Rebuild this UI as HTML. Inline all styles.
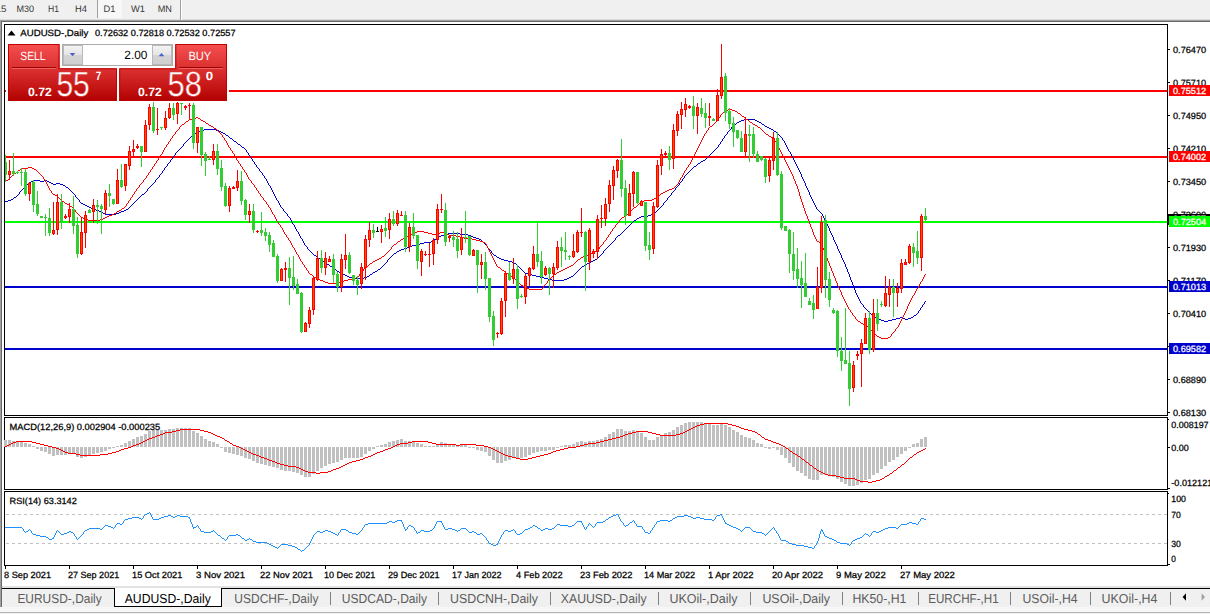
<!DOCTYPE html>
<html><head><meta charset="utf-8"><title>AUDUSD-,Daily</title>
<style>html,body{margin:0;padding:0;background:#fff;overflow:hidden}svg{display:block}text{font-family:"Liberation Sans", sans-serif;white-space:pre}</style></head><body>
<svg width="1210" height="614" viewBox="0 0 1210 614">
<defs><linearGradient id="gTop" gradientUnits="userSpaceOnUse" x1="0" y1="44" x2="0" y2="68.3"><stop offset="0" stop-color="#f75050"/><stop offset="1" stop-color="#d93030"/></linearGradient><linearGradient id="gBot" gradientUnits="userSpaceOnUse" x1="0" y1="68.3" x2="0" y2="101"><stop offset="0" stop-color="#dc3232"/><stop offset="0.6" stop-color="#c41414"/><stop offset="1" stop-color="#b00000"/></linearGradient><linearGradient id="gBtn" x1="0" y1="0" x2="0" y2="1"><stop offset="0" stop-color="#f4f4f4"/><stop offset="0.5" stop-color="#e4e4e4"/><stop offset="0.5" stop-color="#d4d4d4"/><stop offset="1" stop-color="#cfcfcf"/></linearGradient><clipPath id="cpMain"><rect x="5" y="25" width="1162" height="390"/></clipPath><clipPath id="cpAll"><rect x="0" y="0" width="1210" height="614"/></clipPath></defs>
<rect x="0" y="0" width="1210" height="614" fill="#ffffff" />
<rect x="0" y="0" width="1210" height="19" fill="#f0f0f0" />
<rect x="0" y="19" width="1210" height="1" fill="#dcdcdc" />
<rect x="0" y="20" width="1210" height="1" fill="#a0a0a0" />
<rect x="0" y="21" width="1210" height="1" fill="#696969" />
<rect x="0" y="20" width="1" height="567" fill="#a0a0a0" />
<rect x="1" y="21" width="1" height="566" fill="#696969" />
<rect x="98" y="0" width="24" height="18" fill="#f7f7f7" />
<rect x="97" y="0" width="1" height="18" fill="#a0a0a0" />
<rect x="180" y="0" width="1" height="20" fill="#a0a0a0" />
<rect x="181" y="0" width="1" height="20" fill="#ffffff" />
<text transform="translate(-12.6,12.1) skewX(0.05)" font-size="9.4" fill="#383838" textLength="18.9" lengthAdjust="spacingAndGlyphs" >M15</text>
<text transform="translate(16.4,12.1) skewX(0.05)" font-size="9.4" fill="#383838" textLength="17.6" lengthAdjust="spacingAndGlyphs" >M30</text>
<text transform="translate(48,12.1) skewX(0.05)" font-size="9.4" fill="#383838" textLength="11" lengthAdjust="spacingAndGlyphs" >H1</text>
<text transform="translate(75,12.1) skewX(0.05)" font-size="9.4" fill="#383838" textLength="12" lengthAdjust="spacingAndGlyphs" >H4</text>
<text transform="translate(103.5,12.1) skewX(0.05)" font-size="9.4" fill="#383838" textLength="12" lengthAdjust="spacingAndGlyphs" >D1</text>
<text transform="translate(131,12.1) skewX(0.05)" font-size="9.4" fill="#383838" textLength="14" lengthAdjust="spacingAndGlyphs" >W1</text>
<text transform="translate(157.7,12.1) skewX(0.05)" font-size="9.4" fill="#383838" textLength="14.3" lengthAdjust="spacingAndGlyphs" >MN</text>
<g shape-rendering="crispEdges">
<rect x="4" y="24" width="1164" height="1" fill="#000" />
<rect x="4" y="24" width="1" height="392" fill="#000" />
<rect x="4" y="415" width="1164" height="1" fill="#000" />
<rect x="1167" y="24" width="1" height="542" fill="#000" />
<rect x="4" y="417" width="1164" height="1" fill="#000" />
<rect x="4" y="417" width="1" height="73" fill="#000" />
<rect x="4" y="489" width="1164" height="1" fill="#000" />
<rect x="4" y="491" width="1164" height="1" fill="#000" />
<rect x="4" y="491" width="1" height="75" fill="#000" />
<rect x="4" y="565" width="1164" height="1" fill="#000" />
<rect x="1167" y="416" width="1" height="1" fill="#fff" />
<rect x="1167" y="490" width="1" height="1" fill="#fff" />
</g>
<g shape-rendering="crispEdges">
<rect x="1168" y="49" width="2" height="1" fill="#000" />
<rect x="1168" y="82" width="2" height="1" fill="#000" />
<rect x="1168" y="115" width="2" height="1" fill="#000" />
<rect x="1168" y="148" width="2" height="1" fill="#000" />
<rect x="1168" y="181" width="2" height="1" fill="#000" />
<rect x="1168" y="214" width="2" height="1" fill="#000" />
<rect x="1168" y="247" width="2" height="1" fill="#000" />
<rect x="1168" y="280" width="2" height="1" fill="#000" />
<rect x="1168" y="313" width="2" height="1" fill="#000" />
<rect x="1168" y="346" width="2" height="1" fill="#000" />
<rect x="1168" y="379" width="2" height="1" fill="#000" />
<rect x="1168" y="412" width="2" height="1" fill="#000" />
</g>
<text transform="translate(1173,52.9) skewX(0.05)" font-size="9" fill="#000" textLength="33.2" lengthAdjust="spacingAndGlyphs" stroke="#000" stroke-width="0.25">0.76470</text>
<text transform="translate(1173,85.9) skewX(0.05)" font-size="9" fill="#000" textLength="33.2" lengthAdjust="spacingAndGlyphs" stroke="#000" stroke-width="0.25">0.75710</text>
<text transform="translate(1173,118.9) skewX(0.05)" font-size="9" fill="#000" textLength="33.2" lengthAdjust="spacingAndGlyphs" stroke="#000" stroke-width="0.25">0.74950</text>
<text transform="translate(1173,151.9) skewX(0.05)" font-size="9" fill="#000" textLength="33.2" lengthAdjust="spacingAndGlyphs" stroke="#000" stroke-width="0.25">0.74210</text>
<text transform="translate(1173,184.9) skewX(0.05)" font-size="9" fill="#000" textLength="33.2" lengthAdjust="spacingAndGlyphs" stroke="#000" stroke-width="0.25">0.73450</text>
<text transform="translate(1173,217.9) skewX(0.05)" font-size="9" fill="#000" textLength="33.2" lengthAdjust="spacingAndGlyphs" stroke="#000" stroke-width="0.25">0.72690</text>
<text transform="translate(1173,250.9) skewX(0.05)" font-size="9" fill="#000" textLength="33.2" lengthAdjust="spacingAndGlyphs" stroke="#000" stroke-width="0.25">0.71930</text>
<text transform="translate(1173,283.9) skewX(0.05)" font-size="9" fill="#000" textLength="33.2" lengthAdjust="spacingAndGlyphs" stroke="#000" stroke-width="0.25">0.71170</text>
<text transform="translate(1173,316.9) skewX(0.05)" font-size="9" fill="#000" textLength="33.2" lengthAdjust="spacingAndGlyphs" stroke="#000" stroke-width="0.25">0.70410</text>
<text transform="translate(1173,349.9) skewX(0.05)" font-size="9" fill="#000" textLength="33.2" lengthAdjust="spacingAndGlyphs" stroke="#000" stroke-width="0.25">0.69650</text>
<text transform="translate(1173,382.9) skewX(0.05)" font-size="9" fill="#000" textLength="33.2" lengthAdjust="spacingAndGlyphs" stroke="#000" stroke-width="0.25">0.68890</text>
<text transform="translate(1173,415.9) skewX(0.05)" font-size="9" fill="#000" textLength="33.2" lengthAdjust="spacingAndGlyphs" stroke="#000" stroke-width="0.25">0.68130</text>
<g shape-rendering="crispEdges">
<rect x="5" y="90" width="1162" height="2" fill="#ff0000" />
<rect x="5" y="156" width="1162" height="2" fill="#ff0000" />
<rect x="5" y="221" width="1162" height="2" fill="#00ff00" />
<rect x="5" y="286" width="1162" height="2" fill="#0000cd" />
<rect x="5" y="348" width="1162" height="2" fill="#0000cd" />
</g>
<g clip-path="url(#cpMain)">
<path d="M19 192h1v2h-1zM75 195h1v2h-1zM79 200h1v2h-1zM147 189h1v2h-1zM155 180h1v2h-1zM159 175h1v2h-1zM162 171h1v2h-1zM164 168h1v2h-1zM167 164h1v2h-1zM170 160h1v2h-1zM172 157h1v2h-1zM175 153h1v2h-1zM183 144h1v2h-1zM246 150h1v2h-1zM248 153h1v2h-1zM250 156h1v2h-1zM252 159h1v2h-1zM254 162h1v2h-1zM256 165h1v2h-1zM259 169h1v2h-1zM262 173h1v2h-1zM264 176h1v2h-1zM266 179h1v2h-1zM267 181h1v2h-1zM268 183h1v2h-1zM270 186h1v2h-1zM271 188h1v2h-1zM272 190h1v2h-1zM273 192h1v2h-1zM274 194h1v2h-1zM275 196h1v2h-1zM276 198h1v2h-1zM278 201h1v2h-1zM279 203h1v2h-1zM280 205h1v2h-1zM283 209h1v2h-1zM287 214h1v2h-1zM290 218h1v2h-1zM291 220h1v2h-1zM292 222h1v2h-1zM294 225h1v2h-1zM295 227h1v2h-1zM296 229h1v2h-1zM298 232h1v2h-1zM299 234h1v2h-1zM300 236h1v2h-1zM302 239h1v2h-1zM303 241h1v2h-1zM304 243h1v2h-1zM307 247h1v2h-1zM387 260h1v2h-1zM487 246h1v2h-1zM491 251h1v2h-1zM603 251h1v2h-1zM615 238h1v2h-1zM663 203h1v2h-1zM667 198h1v2h-1zM671 193h1v2h-1zM675 188h1v2h-1zM679 183h1v2h-1zM682 179h1v2h-1zM684 176h1v2h-1zM718 145h1v2h-1zM720 142h1v2h-1zM722 139h1v2h-1zM724 136h1v2h-1zM727 132h1v2h-1zM731 127h1v2h-1zM782 138h1v2h-1zM784 141h1v2h-1zM785 143h1v2h-1zM786 145h1v2h-1zM787 147h1v2h-1zM788 149h1v2h-1zM790 152h1v2h-1zM791 154h1v2h-1zM792 156h1v2h-1zM793 158h1v2h-1zM794 160h1v2h-1zM795 162h1v2h-1zM796 164h1v2h-1zM797 166h1v2h-1zM798 168h1v2h-1zM799 170h1v2h-1zM800 172h1v2h-1zM801 174h1v3h-1zM802 177h1v2h-1zM803 179h1v2h-1zM804 181h1v2h-1zM805 183h1v3h-1zM806 186h1v2h-1zM807 188h1v2h-1zM808 190h1v2h-1zM809 192h1v3h-1zM810 195h1v2h-1zM811 197h1v2h-1zM812 199h1v2h-1zM813 201h1v2h-1zM814 203h1v2h-1zM815 205h1v2h-1zM816 207h1v2h-1zM822 214h1v2h-1zM823 216h1v2h-1zM824 218h1v2h-1zM825 220h1v2h-1zM826 222h1v2h-1zM827 224h1v2h-1zM828 226h1v2h-1zM829 228h1v3h-1zM830 231h1v2h-1zM831 233h1v2h-1zM832 235h1v2h-1zM833 237h1v3h-1zM834 240h1v2h-1zM835 242h1v2h-1zM836 244h1v2h-1zM837 246h1v3h-1zM838 249h1v2h-1zM839 251h1v2h-1zM840 253h1v2h-1zM841 255h1v3h-1zM842 258h1v2h-1zM843 260h1v2h-1zM844 262h1v2h-1zM845 264h1v3h-1zM846 267h1v2h-1zM847 269h1v3h-1zM848 272h1v2h-1zM849 274h1v3h-1zM850 277h1v3h-1zM851 280h1v2h-1zM852 282h1v3h-1zM853 285h1v3h-1zM854 288h1v2h-1zM855 290h1v3h-1zM856 293h1v2h-1zM857 295h1v2h-1zM858 297h1v2h-1zM859 299h1v2h-1zM860 301h1v2h-1zM863 305h1v2h-1zM918 311h1v2h-1zM920 308h1v2h-1zM922 305h1v2h-1zM924 302h1v2h-1zM744 119h11v1h-11zM741 120h3v1h-3zM755 120h2v1h-2zM739 121h2v1h-2zM757 121h2v1h-2zM737 122h2v1h-2zM759 122h2v1h-2zM736 123h1v1h-1zM761 123h1v1h-1zM734 124h2v1h-2zM762 124h2v1h-2zM733 125h1v1h-1zM764 125h1v1h-1zM732 126h1v1h-1zM765 126h2v1h-2zM767 127h2v1h-2zM769 128h2v1h-2zM204 129h12v1h-12zM730 129h1v1h-1zM771 129h2v1h-2zM201 130h3v1h-3zM216 130h3v1h-3zM729 130h1v1h-1zM773 130h1v1h-1zM199 131h2v1h-2zM219 131h2v1h-2zM728 131h1v1h-1zM774 131h2v1h-2zM197 132h2v1h-2zM221 132h2v1h-2zM776 132h1v1h-1zM195 133h2v1h-2zM223 133h2v1h-2zM777 133h1v1h-1zM193 134h2v1h-2zM225 134h1v1h-1zM726 134h1v1h-1zM778 134h1v1h-1zM192 135h1v1h-1zM226 135h2v1h-2zM725 135h1v1h-1zM779 135h1v1h-1zM191 136h1v1h-1zM228 136h1v1h-1zM780 136h1v1h-1zM190 137h1v1h-1zM229 137h1v1h-1zM781 137h1v1h-1zM189 138h1v1h-1zM230 138h2v1h-2zM723 138h1v1h-1zM188 139h1v1h-1zM232 139h1v1h-1zM187 140h1v1h-1zM233 140h1v1h-1zM783 140h1v1h-1zM186 141h1v1h-1zM234 141h2v1h-2zM721 141h1v1h-1zM185 142h1v1h-1zM236 142h1v1h-1zM184 143h1v1h-1zM237 143h1v1h-1zM238 144h2v1h-2zM719 144h1v1h-1zM240 145h1v1h-1zM182 146h1v1h-1zM241 146h1v1h-1zM181 147h1v1h-1zM242 147h2v1h-2zM717 147h1v1h-1zM180 148h1v1h-1zM244 148h1v1h-1zM716 148h1v1h-1zM179 149h1v1h-1zM245 149h1v1h-1zM715 149h1v1h-1zM178 150h1v1h-1zM714 150h1v1h-1zM177 151h1v1h-1zM713 151h1v1h-1zM789 151h1v1h-1zM176 152h1v1h-1zM247 152h1v1h-1zM712 152h1v1h-1zM711 153h1v1h-1zM710 154h1v1h-1zM174 155h1v1h-1zM249 155h1v1h-1zM709 155h1v1h-1zM173 156h1v1h-1zM708 156h1v1h-1zM707 157h1v1h-1zM251 158h1v1h-1zM706 158h1v1h-1zM171 159h1v1h-1zM705 159h1v1h-1zM703 160h2v1h-2zM253 161h1v1h-1zM701 161h2v1h-2zM169 162h1v1h-1zM700 162h1v1h-1zM168 163h1v1h-1zM698 163h2v1h-2zM255 164h1v1h-1zM697 164h1v1h-1zM696 165h1v1h-1zM166 166h1v1h-1zM694 166h2v1h-2zM165 167h1v1h-1zM257 167h1v1h-1zM693 167h1v1h-1zM258 168h1v1h-1zM692 168h1v1h-1zM691 169h1v1h-1zM163 170h1v1h-1zM690 170h1v1h-1zM260 171h1v1h-1zM689 171h1v1h-1zM261 172h1v1h-1zM688 172h1v1h-1zM161 173h1v1h-1zM687 173h1v1h-1zM160 174h1v1h-1zM686 174h1v1h-1zM263 175h1v1h-1zM685 175h1v1h-1zM158 177h1v1h-1zM157 178h1v1h-1zM265 178h1v1h-1zM683 178h1v1h-1zM156 179h1v1h-1zM33 180h7v1h-7zM44 180h3v1h-3zM31 181h2v1h-2zM40 181h4v1h-4zM47 181h2v1h-2zM681 181h1v1h-1zM29 182h2v1h-2zM49 182h2v1h-2zM154 182h1v1h-1zM680 182h1v1h-1zM28 183h1v1h-1zM51 183h2v1h-2zM56 183h4v1h-4zM153 183h1v1h-1zM27 184h1v1h-1zM53 184h3v1h-3zM60 184h3v1h-3zM152 184h1v1h-1zM26 185h1v1h-1zM63 185h2v1h-2zM151 185h1v1h-1zM269 185h1v1h-1zM678 185h1v1h-1zM25 186h1v1h-1zM65 186h1v1h-1zM150 186h1v1h-1zM677 186h1v1h-1zM24 187h1v1h-1zM66 187h2v1h-2zM149 187h1v1h-1zM676 187h1v1h-1zM23 188h1v1h-1zM68 188h1v1h-1zM148 188h1v1h-1zM22 189h1v1h-1zM69 189h1v1h-1zM21 190h1v1h-1zM70 190h1v1h-1zM674 190h1v1h-1zM20 191h1v1h-1zM71 191h1v1h-1zM146 191h1v1h-1zM673 191h1v1h-1zM72 192h1v1h-1zM145 192h1v1h-1zM672 192h1v1h-1zM73 193h1v1h-1zM144 193h1v1h-1zM18 194h1v1h-1zM74 194h1v1h-1zM142 194h2v1h-2zM17 195h1v1h-1zM141 195h1v1h-1zM670 195h1v1h-1zM16 196h1v1h-1zM140 196h1v1h-1zM669 196h1v1h-1zM14 197h2v1h-2zM76 197h1v1h-1zM139 197h1v1h-1zM668 197h1v1h-1zM13 198h1v1h-1zM77 198h1v1h-1zM138 198h1v1h-1zM11 199h2v1h-2zM78 199h1v1h-1zM137 199h1v1h-1zM8 200h3v1h-3zM136 200h1v1h-1zM277 200h1v1h-1zM666 200h1v1h-1zM5 201h3v1h-3zM135 201h1v1h-1zM665 201h1v1h-1zM80 202h1v1h-1zM134 202h1v1h-1zM664 202h1v1h-1zM81 203h2v1h-2zM133 203h1v1h-1zM83 204h2v1h-2zM132 204h1v1h-1zM85 205h2v1h-2zM131 205h1v1h-1zM662 205h1v1h-1zM87 206h2v1h-2zM130 206h1v1h-1zM661 206h1v1h-1zM89 207h2v1h-2zM129 207h1v1h-1zM281 207h1v1h-1zM660 207h1v1h-1zM91 208h2v1h-2zM128 208h1v1h-1zM282 208h1v1h-1zM659 208h1v1h-1zM93 209h3v1h-3zM126 209h2v1h-2zM658 209h1v1h-1zM817 209h1v1h-1zM96 210h3v1h-3zM124 210h2v1h-2zM657 210h1v1h-1zM818 210h1v1h-1zM99 211h2v1h-2zM121 211h3v1h-3zM284 211h1v1h-1zM656 211h1v1h-1zM819 211h1v1h-1zM101 212h2v1h-2zM119 212h2v1h-2zM285 212h1v1h-1zM654 212h2v1h-2zM820 212h1v1h-1zM103 213h2v1h-2zM116 213h3v1h-3zM286 213h1v1h-1zM653 213h1v1h-1zM821 213h1v1h-1zM105 214h11v1h-11zM651 214h2v1h-2zM648 215h3v1h-3zM288 216h1v1h-1zM641 216h7v1h-7zM289 217h1v1h-1zM639 217h2v1h-2zM637 218h2v1h-2zM636 219h1v1h-1zM634 220h2v1h-2zM633 221h1v1h-1zM632 222h1v1h-1zM631 223h1v1h-1zM293 224h1v1h-1zM630 224h1v1h-1zM629 225h1v1h-1zM628 226h1v1h-1zM627 227h1v1h-1zM626 228h1v1h-1zM625 229h1v1h-1zM624 230h1v1h-1zM297 231h1v1h-1zM623 231h1v1h-1zM622 232h1v1h-1zM448 233h12v1h-12zM621 233h1v1h-1zM444 234h4v1h-4zM460 234h8v1h-8zM620 234h1v1h-1zM441 235h3v1h-3zM468 235h3v1h-3zM618 235h2v1h-2zM439 236h2v1h-2zM471 236h2v1h-2zM617 236h1v1h-1zM437 237h2v1h-2zM473 237h3v1h-3zM616 237h1v1h-1zM301 238h1v1h-1zM436 238h1v1h-1zM476 238h3v1h-3zM434 239h2v1h-2zM479 239h2v1h-2zM433 240h1v1h-1zM481 240h1v1h-1zM614 240h1v1h-1zM431 241h2v1h-2zM482 241h1v1h-1zM613 241h1v1h-1zM424 242h7v1h-7zM483 242h1v1h-1zM612 242h1v1h-1zM420 243h4v1h-4zM484 243h1v1h-1zM611 243h1v1h-1zM416 244h4v1h-4zM485 244h1v1h-1zM610 244h1v1h-1zM305 245h1v1h-1zM412 245h4v1h-4zM486 245h1v1h-1zM609 245h1v1h-1zM306 246h1v1h-1zM409 246h3v1h-3zM608 246h1v1h-1zM407 247h2v1h-2zM607 247h1v1h-1zM404 248h3v1h-3zM488 248h1v1h-1zM606 248h1v1h-1zM308 249h1v1h-1zM401 249h3v1h-3zM489 249h1v1h-1zM605 249h1v1h-1zM309 250h1v1h-1zM399 250h2v1h-2zM490 250h1v1h-1zM604 250h1v1h-1zM310 251h1v1h-1zM397 251h2v1h-2zM311 252h1v1h-1zM396 252h1v1h-1zM312 253h1v1h-1zM394 253h2v1h-2zM492 253h1v1h-1zM602 253h1v1h-1zM313 254h1v1h-1zM393 254h1v1h-1zM493 254h1v1h-1zM601 254h1v1h-1zM314 255h2v1h-2zM392 255h1v1h-1zM494 255h2v1h-2zM600 255h1v1h-1zM316 256h1v1h-1zM391 256h1v1h-1zM496 256h1v1h-1zM599 256h1v1h-1zM317 257h1v1h-1zM390 257h1v1h-1zM497 257h2v1h-2zM598 257h1v1h-1zM318 258h2v1h-2zM389 258h1v1h-1zM499 258h2v1h-2zM597 258h1v1h-1zM320 259h1v1h-1zM388 259h1v1h-1zM501 259h3v1h-3zM595 259h2v1h-2zM321 260h1v1h-1zM504 260h4v1h-4zM593 260h2v1h-2zM322 261h2v1h-2zM508 261h4v1h-4zM591 261h2v1h-2zM324 262h1v1h-1zM386 262h1v1h-1zM512 262h2v1h-2zM589 262h2v1h-2zM325 263h2v1h-2zM385 263h1v1h-1zM514 263h2v1h-2zM587 263h2v1h-2zM327 264h2v1h-2zM384 264h1v1h-1zM516 264h1v1h-1zM585 264h2v1h-2zM329 265h1v1h-1zM383 265h1v1h-1zM517 265h1v1h-1zM584 265h1v1h-1zM330 266h2v1h-2zM382 266h1v1h-1zM518 266h1v1h-1zM582 266h2v1h-2zM332 267h1v1h-1zM381 267h1v1h-1zM519 267h1v1h-1zM581 267h1v1h-1zM333 268h1v1h-1zM380 268h1v1h-1zM520 268h1v1h-1zM580 268h1v1h-1zM334 269h2v1h-2zM378 269h2v1h-2zM521 269h1v1h-1zM579 269h1v1h-1zM336 270h1v1h-1zM377 270h1v1h-1zM522 270h1v1h-1zM578 270h1v1h-1zM337 271h2v1h-2zM375 271h2v1h-2zM523 271h1v1h-1zM577 271h1v1h-1zM339 272h2v1h-2zM373 272h2v1h-2zM524 272h1v1h-1zM576 272h1v1h-1zM341 273h2v1h-2zM372 273h1v1h-1zM525 273h3v1h-3zM575 273h1v1h-1zM343 274h2v1h-2zM370 274h2v1h-2zM528 274h4v1h-4zM574 274h1v1h-1zM345 275h2v1h-2zM369 275h1v1h-1zM532 275h4v1h-4zM573 275h1v1h-1zM347 276h2v1h-2zM367 276h2v1h-2zM536 276h4v1h-4zM571 276h2v1h-2zM349 277h3v1h-3zM364 277h3v1h-3zM540 277h4v1h-4zM569 277h2v1h-2zM352 278h12v1h-12zM544 278h4v1h-4zM567 278h2v1h-2zM548 279h4v1h-4zM564 279h3v1h-3zM552 280h12v1h-12zM925 301h1v1h-1zM861 303h1v1h-1zM862 304h1v1h-1zM923 304h1v1h-1zM864 307h1v1h-1zM921 307h1v1h-1zM865 308h1v1h-1zM866 309h1v1h-1zM867 310h1v1h-1zM919 310h1v1h-1zM868 311h1v1h-1zM869 312h1v1h-1zM870 313h1v1h-1zM917 313h1v1h-1zM871 314h1v1h-1zM916 314h1v1h-1zM872 315h1v1h-1zM914 315h2v1h-2zM873 316h2v1h-2zM913 316h1v1h-1zM875 317h2v1h-2zM900 317h3v1h-3zM911 317h2v1h-2zM877 318h2v1h-2zM896 318h4v1h-4zM903 318h2v1h-2zM908 318h3v1h-3zM879 319h2v1h-2zM892 319h4v1h-4zM905 319h3v1h-3zM881 320h3v1h-3zM888 320h4v1h-4zM884 321h4v1h-4z" fill="#0000cd" shape-rendering="crispEdges" />
<path d="M43 177h1v2h-1zM45 180h1v2h-1zM46 182h1v2h-1zM47 184h1v2h-1zM48 186h1v2h-1zM49 188h1v2h-1zM51 191h1v2h-1zM75 210h1v2h-1zM126 204h1v2h-1zM128 201h1v2h-1zM130 198h1v2h-1zM132 195h1v2h-1zM134 192h1v2h-1zM136 189h1v2h-1zM139 185h1v2h-1zM143 180h1v2h-1zM146 176h1v2h-1zM148 173h1v2h-1zM150 170h1v2h-1zM152 167h1v2h-1zM154 164h1v2h-1zM156 161h1v2h-1zM158 158h1v2h-1zM160 155h1v2h-1zM162 152h1v2h-1zM163 150h1v2h-1zM164 148h1v2h-1zM166 145h1v2h-1zM168 142h1v2h-1zM170 139h1v2h-1zM172 136h1v2h-1zM175 132h1v2h-1zM179 127h1v2h-1zM222 135h1v2h-1zM224 138h1v2h-1zM226 141h1v2h-1zM227 143h1v2h-1zM228 145h1v2h-1zM230 148h1v2h-1zM232 151h1v2h-1zM234 154h1v2h-1zM235 156h1v2h-1zM236 158h1v2h-1zM238 161h1v2h-1zM240 164h1v2h-1zM242 167h1v2h-1zM244 170h1v2h-1zM246 173h1v2h-1zM247 175h1v2h-1zM248 177h1v2h-1zM251 181h1v2h-1zM254 185h1v2h-1zM256 188h1v2h-1zM258 191h1v2h-1zM260 194h1v2h-1zM263 198h1v2h-1zM266 202h1v2h-1zM268 205h1v2h-1zM270 208h1v2h-1zM271 210h1v2h-1zM272 212h1v2h-1zM274 215h1v2h-1zM275 217h1v2h-1zM276 219h1v2h-1zM278 222h1v2h-1zM280 225h1v2h-1zM282 228h1v2h-1zM283 230h1v2h-1zM284 232h1v2h-1zM286 235h1v2h-1zM288 238h1v2h-1zM290 241h1v2h-1zM291 243h1v2h-1zM292 245h1v2h-1zM294 248h1v2h-1zM295 250h1v2h-1zM296 252h1v2h-1zM298 255h1v2h-1zM299 257h1v2h-1zM300 259h1v2h-1zM302 262h1v2h-1zM304 265h1v2h-1zM306 268h1v2h-1zM308 271h1v2h-1zM359 274h1v2h-1zM363 269h1v2h-1zM391 247h1v2h-1zM486 244h1v2h-1zM487 246h1v2h-1zM488 248h1v2h-1zM489 250h1v2h-1zM490 252h1v2h-1zM491 254h1v2h-1zM492 256h1v2h-1zM493 258h1v2h-1zM494 260h1v2h-1zM495 262h1v2h-1zM496 264h1v2h-1zM543 286h1v2h-1zM547 281h1v2h-1zM599 247h1v2h-1zM603 242h1v2h-1zM606 238h1v2h-1zM608 235h1v2h-1zM610 232h1v2h-1zM612 229h1v2h-1zM615 225h1v2h-1zM619 220h1v2h-1zM678 182h1v2h-1zM679 180h1v2h-1zM680 178h1v2h-1zM682 175h1v2h-1zM683 173h1v2h-1zM684 171h1v2h-1zM686 168h1v2h-1zM688 165h1v2h-1zM690 162h1v2h-1zM691 160h1v2h-1zM692 158h1v2h-1zM693 156h1v2h-1zM694 154h1v2h-1zM695 152h1v2h-1zM696 150h1v2h-1zM697 148h1v2h-1zM698 146h1v2h-1zM699 144h1v2h-1zM700 142h1v2h-1zM701 140h1v2h-1zM702 138h1v2h-1zM703 136h1v2h-1zM704 134h1v2h-1zM706 131h1v2h-1zM708 128h1v2h-1zM718 118h1v2h-1zM720 115h1v2h-1zM774 139h1v2h-1zM776 142h1v2h-1zM777 144h1v2h-1zM778 146h1v2h-1zM779 148h1v2h-1zM780 150h1v2h-1zM781 152h1v2h-1zM782 154h1v2h-1zM783 156h1v2h-1zM784 158h1v2h-1zM785 160h1v2h-1zM786 162h1v2h-1zM787 164h1v2h-1zM788 166h1v2h-1zM789 168h1v2h-1zM790 170h1v2h-1zM791 172h1v2h-1zM792 174h1v2h-1zM793 176h1v3h-1zM794 179h1v2h-1zM795 181h1v3h-1zM796 184h1v2h-1zM797 186h1v3h-1zM798 189h1v3h-1zM799 192h1v4h-1zM800 196h1v3h-1zM801 199h1v3h-1zM802 202h1v3h-1zM803 205h1v3h-1zM804 208h1v3h-1zM805 211h1v3h-1zM806 214h1v2h-1zM807 216h1v3h-1zM808 219h1v2h-1zM809 221h1v3h-1zM810 224h1v3h-1zM811 227h1v2h-1zM812 229h1v3h-1zM813 232h1v3h-1zM814 235h1v2h-1zM815 237h1v2h-1zM816 239h1v2h-1zM821 243h1v2h-1zM822 245h1v3h-1zM823 248h1v2h-1zM824 250h1v3h-1zM825 253h1v3h-1zM826 256h1v2h-1zM827 258h1v3h-1zM828 261h1v2h-1zM829 263h1v3h-1zM830 266h1v2h-1zM831 268h1v3h-1zM832 271h1v2h-1zM833 273h1v3h-1zM834 276h1v2h-1zM835 278h1v3h-1zM836 281h1v2h-1zM837 283h1v3h-1zM838 286h1v2h-1zM839 288h1v2h-1zM840 290h1v2h-1zM841 292h1v3h-1zM842 295h1v2h-1zM843 297h1v2h-1zM844 299h1v2h-1zM845 301h1v2h-1zM846 303h1v2h-1zM847 305h1v2h-1zM848 307h1v2h-1zM850 310h1v2h-1zM852 313h1v2h-1zM855 317h1v2h-1zM891 334h1v2h-1zM895 329h1v2h-1zM898 325h1v2h-1zM899 323h1v2h-1zM900 321h1v2h-1zM901 319h1v2h-1zM902 317h1v2h-1zM903 315h1v2h-1zM904 313h1v2h-1zM905 311h1v2h-1zM906 309h1v2h-1zM907 306h1v3h-1zM908 304h1v2h-1zM909 302h1v2h-1zM910 300h1v2h-1zM911 298h1v2h-1zM912 296h1v2h-1zM914 293h1v2h-1zM915 291h1v2h-1zM916 289h1v2h-1zM918 286h1v2h-1zM919 284h1v2h-1zM920 282h1v2h-1zM922 279h1v2h-1zM923 277h1v2h-1zM924 275h1v2h-1zM728 109h4v1h-4zM725 110h3v1h-3zM732 110h3v1h-3zM724 111h1v1h-1zM735 111h2v1h-2zM723 112h1v1h-1zM737 112h1v1h-1zM722 113h1v1h-1zM738 113h2v1h-2zM721 114h1v1h-1zM740 114h1v1h-1zM741 115h1v1h-1zM742 116h2v1h-2zM196 117h2v1h-2zM719 117h1v1h-1zM744 117h1v1h-1zM192 118h4v1h-4zM198 118h2v1h-2zM745 118h1v1h-1zM189 119h3v1h-3zM200 119h1v1h-1zM746 119h2v1h-2zM188 120h1v1h-1zM201 120h2v1h-2zM717 120h1v1h-1zM748 120h1v1h-1zM186 121h2v1h-2zM203 121h2v1h-2zM716 121h1v1h-1zM749 121h1v1h-1zM185 122h1v1h-1zM205 122h1v1h-1zM715 122h1v1h-1zM750 122h2v1h-2zM184 123h1v1h-1zM206 123h2v1h-2zM714 123h1v1h-1zM752 123h1v1h-1zM182 124h2v1h-2zM208 124h1v1h-1zM713 124h1v1h-1zM753 124h2v1h-2zM181 125h1v1h-1zM209 125h2v1h-2zM712 125h1v1h-1zM755 125h2v1h-2zM180 126h1v1h-1zM211 126h2v1h-2zM710 126h2v1h-2zM757 126h1v1h-1zM213 127h1v1h-1zM709 127h1v1h-1zM758 127h2v1h-2zM214 128h2v1h-2zM760 128h1v1h-1zM178 129h1v1h-1zM216 129h1v1h-1zM761 129h1v1h-1zM177 130h1v1h-1zM217 130h1v1h-1zM707 130h1v1h-1zM762 130h1v1h-1zM176 131h1v1h-1zM218 131h1v1h-1zM763 131h1v1h-1zM219 132h1v1h-1zM764 132h1v1h-1zM220 133h1v1h-1zM705 133h1v1h-1zM765 133h1v1h-1zM174 134h1v1h-1zM221 134h1v1h-1zM766 134h2v1h-2zM173 135h1v1h-1zM768 135h1v1h-1zM769 136h2v1h-2zM223 137h1v1h-1zM771 137h2v1h-2zM171 138h1v1h-1zM773 138h1v1h-1zM225 140h1v1h-1zM169 141h1v1h-1zM775 141h1v1h-1zM167 144h1v1h-1zM165 147h1v1h-1zM229 147h1v1h-1zM231 150h1v1h-1zM233 153h1v1h-1zM161 154h1v1h-1zM159 157h1v1h-1zM157 160h1v1h-1zM237 160h1v1h-1zM155 163h1v1h-1zM239 163h1v1h-1zM689 164h1v1h-1zM153 166h1v1h-1zM241 166h1v1h-1zM28 167h4v1h-4zM687 167h1v1h-1zM21 168h7v1h-7zM32 168h2v1h-2zM20 169h1v1h-1zM34 169h2v1h-2zM151 169h1v1h-1zM243 169h1v1h-1zM18 170h2v1h-2zM36 170h1v1h-1zM685 170h1v1h-1zM17 171h1v1h-1zM37 171h1v1h-1zM16 172h1v1h-1zM38 172h1v1h-1zM149 172h1v1h-1zM245 172h1v1h-1zM14 173h2v1h-2zM39 173h1v1h-1zM13 174h1v1h-1zM40 174h1v1h-1zM12 175h1v1h-1zM41 175h1v1h-1zM147 175h1v1h-1zM11 176h1v1h-1zM42 176h1v1h-1zM10 177h1v1h-1zM681 177h1v1h-1zM9 178h1v1h-1zM145 178h1v1h-1zM8 179h1v1h-1zM44 179h1v1h-1zM144 179h1v1h-1zM249 179h1v1h-1zM6 180h2v1h-2zM250 180h1v1h-1zM5 181h1v1h-1zM142 182h1v1h-1zM141 183h1v1h-1zM252 183h1v1h-1zM140 184h1v1h-1zM253 184h1v1h-1zM677 184h1v1h-1zM676 185h1v1h-1zM675 186h1v1h-1zM138 187h1v1h-1zM255 187h1v1h-1zM674 187h1v1h-1zM137 188h1v1h-1zM672 188h2v1h-2zM669 189h3v1h-3zM50 190h1v1h-1zM257 190h1v1h-1zM667 190h2v1h-2zM135 191h1v1h-1zM665 191h2v1h-2zM663 192h2v1h-2zM52 193h1v1h-1zM259 193h1v1h-1zM661 193h2v1h-2zM53 194h2v1h-2zM133 194h1v1h-1zM660 194h1v1h-1zM55 195h2v1h-2zM658 195h2v1h-2zM57 196h1v1h-1zM261 196h1v1h-1zM657 196h1v1h-1zM58 197h1v1h-1zM131 197h1v1h-1zM262 197h1v1h-1zM656 197h1v1h-1zM59 198h1v1h-1zM654 198h2v1h-2zM60 199h1v1h-1zM652 199h2v1h-2zM61 200h1v1h-1zM129 200h1v1h-1zM264 200h1v1h-1zM644 200h8v1h-8zM62 201h2v1h-2zM265 201h1v1h-1zM641 201h3v1h-3zM64 202h1v1h-1zM640 202h1v1h-1zM65 203h2v1h-2zM127 203h1v1h-1zM639 203h1v1h-1zM67 204h2v1h-2zM267 204h1v1h-1zM638 204h1v1h-1zM69 205h1v1h-1zM637 205h1v1h-1zM70 206h2v1h-2zM125 206h1v1h-1zM636 206h1v1h-1zM72 207h1v1h-1zM124 207h1v1h-1zM269 207h1v1h-1zM634 207h2v1h-2zM73 208h1v1h-1zM122 208h2v1h-2zM633 208h1v1h-1zM74 209h1v1h-1zM121 209h1v1h-1zM632 209h1v1h-1zM119 210h2v1h-2zM631 210h1v1h-1zM117 211h2v1h-2zM630 211h1v1h-1zM76 212h1v1h-1zM116 212h1v1h-1zM629 212h1v1h-1zM77 213h1v1h-1zM114 213h2v1h-2zM628 213h1v1h-1zM78 214h1v1h-1zM112 214h2v1h-2zM273 214h1v1h-1zM626 214h2v1h-2zM79 215h1v1h-1zM109 215h3v1h-3zM625 215h1v1h-1zM80 216h1v1h-1zM107 216h2v1h-2zM624 216h1v1h-1zM81 217h2v1h-2zM105 217h2v1h-2zM622 217h2v1h-2zM83 218h2v1h-2zM103 218h2v1h-2zM621 218h1v1h-1zM85 219h3v1h-3zM100 219h3v1h-3zM620 219h1v1h-1zM88 220h12v1h-12zM277 221h1v1h-1zM618 222h1v1h-1zM617 223h1v1h-1zM279 224h1v1h-1zM616 224h1v1h-1zM281 227h1v1h-1zM614 227h1v1h-1zM613 228h1v1h-1zM417 231h7v1h-7zM611 231h1v1h-1zM415 232h2v1h-2zM424 232h4v1h-4zM440 232h4v1h-4zM413 233h2v1h-2zM428 233h4v1h-4zM436 233h4v1h-4zM444 233h3v1h-3zM285 234h1v1h-1zM411 234h2v1h-2zM432 234h4v1h-4zM447 234h2v1h-2zM609 234h1v1h-1zM409 235h2v1h-2zM449 235h7v1h-7zM407 236h2v1h-2zM456 236h4v1h-4zM287 237h1v1h-1zM405 237h2v1h-2zM460 237h4v1h-4zM607 237h1v1h-1zM403 238h2v1h-2zM464 238h8v1h-8zM401 239h2v1h-2zM472 239h4v1h-4zM289 240h1v1h-1zM400 240h1v1h-1zM476 240h4v1h-4zM605 240h1v1h-1zM398 241h2v1h-2zM480 241h3v1h-3zM604 241h1v1h-1zM817 241h2v1h-2zM397 242h1v1h-1zM483 242h2v1h-2zM819 242h2v1h-2zM396 243h1v1h-1zM485 243h1v1h-1zM394 244h2v1h-2zM602 244h1v1h-1zM393 245h1v1h-1zM601 245h1v1h-1zM392 246h1v1h-1zM600 246h1v1h-1zM293 247h1v1h-1zM390 249h1v1h-1zM598 249h1v1h-1zM389 250h1v1h-1zM597 250h1v1h-1zM388 251h1v1h-1zM595 251h2v1h-2zM387 252h1v1h-1zM593 252h2v1h-2zM386 253h1v1h-1zM591 253h2v1h-2zM297 254h1v1h-1zM385 254h1v1h-1zM588 254h3v1h-3zM384 255h1v1h-1zM585 255h3v1h-3zM382 256h2v1h-2zM583 256h2v1h-2zM381 257h1v1h-1zM581 257h2v1h-2zM379 258h2v1h-2zM580 258h1v1h-1zM377 259h2v1h-2zM578 259h2v1h-2zM375 260h2v1h-2zM577 260h1v1h-1zM301 261h1v1h-1zM373 261h2v1h-2zM576 261h1v1h-1zM372 262h1v1h-1zM575 262h1v1h-1zM370 263h2v1h-2zM574 263h1v1h-1zM303 264h1v1h-1zM369 264h1v1h-1zM573 264h1v1h-1zM368 265h1v1h-1zM571 265h2v1h-2zM366 266h2v1h-2zM497 266h1v1h-1zM569 266h2v1h-2zM305 267h1v1h-1zM365 267h1v1h-1zM498 267h2v1h-2zM567 267h2v1h-2zM364 268h1v1h-1zM500 268h1v1h-1zM565 268h2v1h-2zM501 269h1v1h-1zM563 269h2v1h-2zM307 270h1v1h-1zM502 270h2v1h-2zM561 270h2v1h-2zM362 271h1v1h-1zM504 271h1v1h-1zM559 271h2v1h-2zM361 272h1v1h-1zM505 272h1v1h-1zM557 272h2v1h-2zM309 273h1v1h-1zM360 273h1v1h-1zM506 273h2v1h-2zM556 273h1v1h-1zM310 274h2v1h-2zM508 274h1v1h-1zM554 274h2v1h-2zM925 274h1v1h-1zM312 275h1v1h-1zM509 275h2v1h-2zM553 275h1v1h-1zM313 276h1v1h-1zM358 276h1v1h-1zM511 276h2v1h-2zM552 276h1v1h-1zM314 277h2v1h-2zM356 277h2v1h-2zM513 277h1v1h-1zM551 277h1v1h-1zM316 278h1v1h-1zM352 278h4v1h-4zM514 278h1v1h-1zM550 278h1v1h-1zM317 279h3v1h-3zM348 279h4v1h-4zM515 279h1v1h-1zM549 279h1v1h-1zM320 280h3v1h-3zM344 280h4v1h-4zM516 280h1v1h-1zM548 280h1v1h-1zM323 281h2v1h-2zM340 281h4v1h-4zM517 281h1v1h-1zM921 281h1v1h-1zM325 282h3v1h-3zM336 282h4v1h-4zM518 282h1v1h-1zM328 283h8v1h-8zM519 283h1v1h-1zM546 283h1v1h-1zM520 284h1v1h-1zM545 284h1v1h-1zM521 285h2v1h-2zM544 285h1v1h-1zM523 286h2v1h-2zM525 287h2v1h-2zM527 288h2v1h-2zM542 288h1v1h-1zM917 288h1v1h-1zM529 289h13v1h-13zM913 295h1v1h-1zM849 309h1v1h-1zM851 312h1v1h-1zM853 315h1v1h-1zM854 316h1v1h-1zM856 319h1v1h-1zM857 320h1v1h-1zM858 321h2v1h-2zM860 322h1v1h-1zM861 323h2v1h-2zM863 324h2v1h-2zM865 325h1v1h-1zM866 326h2v1h-2zM868 327h1v1h-1zM897 327h1v1h-1zM869 328h1v1h-1zM896 328h1v1h-1zM870 329h1v1h-1zM871 330h1v1h-1zM872 331h1v1h-1zM894 331h1v1h-1zM873 332h1v1h-1zM893 332h1v1h-1zM874 333h1v1h-1zM892 333h1v1h-1zM875 334h1v1h-1zM876 335h1v1h-1zM877 336h2v1h-2zM890 336h1v1h-1zM879 337h2v1h-2zM888 337h2v1h-2zM881 338h7v1h-7z" fill="#ff0000" shape-rendering="crispEdges" />
</g>
<g shape-rendering="crispEdges" clip-path="url(#cpMain)">
<rect x="5" y="155" width="1" height="27" fill="#32cd32" />
<rect x="4" y="162" width="3" height="13" fill="#32cd32" />
<rect x="9" y="160" width="1" height="20" fill="#ff0000" />
<rect x="8" y="171" width="3" height="4" fill="#ff0000" />
<rect x="9" y="172" width="1" height="2" fill="#ff4a00" />
<rect x="13" y="153" width="1" height="23" fill="#32cd32" />
<rect x="12" y="171" width="3" height="3" fill="#32cd32" />
<rect x="17" y="171" width="1" height="3" fill="#32cd32" />
<rect x="16" y="172" width="3" height="1" fill="#32cd32" />
<rect x="21" y="168" width="1" height="18" fill="#32cd32" />
<rect x="20" y="172" width="3" height="1" fill="#32cd32" />
<rect x="25" y="169" width="1" height="27" fill="#32cd32" />
<rect x="24" y="172" width="3" height="22" fill="#32cd32" />
<rect x="29" y="182" width="1" height="19" fill="#ff0000" />
<rect x="28" y="183" width="3" height="11" fill="#ff0000" />
<rect x="29" y="184" width="1" height="9" fill="#ff4a00" />
<rect x="33" y="180" width="1" height="32" fill="#32cd32" />
<rect x="32" y="182" width="3" height="23" fill="#32cd32" />
<rect x="37" y="191" width="1" height="25" fill="#32cd32" />
<rect x="36" y="204" width="3" height="10" fill="#32cd32" />
<rect x="41" y="216" width="1" height="2" fill="#32cd32" />
<rect x="40" y="216" width="3" height="2" fill="#32cd32" />
<rect x="45" y="214" width="1" height="22" fill="#32cd32" />
<rect x="44" y="217" width="3" height="1" fill="#32cd32" />
<rect x="49" y="208" width="1" height="28" fill="#32cd32" />
<rect x="48" y="218" width="3" height="15" fill="#32cd32" />
<rect x="53" y="202" width="1" height="33" fill="#ff0000" />
<rect x="52" y="230" width="3" height="4" fill="#ff0000" />
<rect x="53" y="231" width="1" height="2" fill="#ff4a00" />
<rect x="57" y="194" width="1" height="41" fill="#ff0000" />
<rect x="56" y="202" width="3" height="28" fill="#ff0000" />
<rect x="57" y="203" width="1" height="26" fill="#ff4a00" />
<rect x="61" y="194" width="1" height="35" fill="#32cd32" />
<rect x="60" y="202" width="3" height="20" fill="#32cd32" />
<rect x="65" y="214" width="1" height="5" fill="#ff0000" />
<rect x="64" y="216" width="3" height="2" fill="#ff0000" />
<rect x="69" y="203" width="1" height="20" fill="#ff0000" />
<rect x="68" y="209" width="3" height="8" fill="#ff0000" />
<rect x="69" y="210" width="1" height="6" fill="#ff4a00" />
<rect x="73" y="196" width="1" height="38" fill="#32cd32" />
<rect x="72" y="209" width="3" height="17" fill="#32cd32" />
<rect x="77" y="217" width="1" height="41" fill="#32cd32" />
<rect x="76" y="225" width="3" height="29" fill="#32cd32" />
<rect x="81" y="218" width="1" height="37" fill="#ff0000" />
<rect x="80" y="232" width="3" height="22" fill="#ff0000" />
<rect x="81" y="233" width="1" height="20" fill="#ff4a00" />
<rect x="85" y="211" width="1" height="37" fill="#ff0000" />
<rect x="84" y="215" width="3" height="18" fill="#ff0000" />
<rect x="85" y="216" width="1" height="16" fill="#ff4a00" />
<rect x="89" y="209" width="1" height="4" fill="#32cd32" />
<rect x="88" y="210" width="3" height="3" fill="#32cd32" />
<rect x="93" y="199" width="1" height="24" fill="#ff0000" />
<rect x="92" y="205" width="3" height="7" fill="#ff0000" />
<rect x="93" y="206" width="1" height="5" fill="#ff4a00" />
<rect x="97" y="200" width="1" height="24" fill="#32cd32" />
<rect x="96" y="205" width="3" height="2" fill="#32cd32" />
<rect x="101" y="204" width="1" height="30" fill="#32cd32" />
<rect x="100" y="206" width="3" height="3" fill="#32cd32" />
<rect x="105" y="190" width="1" height="24" fill="#ff0000" />
<rect x="104" y="193" width="3" height="17" fill="#ff0000" />
<rect x="105" y="194" width="1" height="15" fill="#ff4a00" />
<rect x="109" y="184" width="1" height="23" fill="#32cd32" />
<rect x="108" y="193" width="3" height="3" fill="#32cd32" />
<rect x="113" y="199" width="1" height="6" fill="#32cd32" />
<rect x="112" y="199" width="3" height="5" fill="#32cd32" />
<rect x="117" y="169" width="1" height="35" fill="#ff0000" />
<rect x="116" y="180" width="3" height="24" fill="#ff0000" />
<rect x="117" y="181" width="1" height="22" fill="#ff4a00" />
<rect x="121" y="164" width="1" height="24" fill="#32cd32" />
<rect x="120" y="180" width="3" height="7" fill="#32cd32" />
<rect x="125" y="164" width="1" height="27" fill="#ff0000" />
<rect x="124" y="164" width="3" height="22" fill="#ff0000" />
<rect x="125" y="165" width="1" height="20" fill="#ff4a00" />
<rect x="129" y="146" width="1" height="24" fill="#ff0000" />
<rect x="128" y="151" width="3" height="15" fill="#ff0000" />
<rect x="129" y="152" width="1" height="13" fill="#ff4a00" />
<rect x="133" y="140" width="1" height="16" fill="#ff0000" />
<rect x="132" y="149" width="3" height="3" fill="#ff0000" />
<rect x="133" y="150" width="1" height="1" fill="#ff4a00" />
<rect x="137" y="144" width="1" height="5" fill="#ff0000" />
<rect x="136" y="146" width="3" height="2" fill="#ff0000" />
<rect x="141" y="146" width="1" height="21" fill="#32cd32" />
<rect x="140" y="146" width="3" height="6" fill="#32cd32" />
<rect x="145" y="120" width="1" height="32" fill="#ff0000" />
<rect x="144" y="125" width="3" height="27" fill="#ff0000" />
<rect x="145" y="126" width="1" height="25" fill="#ff4a00" />
<rect x="149" y="104" width="1" height="26" fill="#ff0000" />
<rect x="148" y="107" width="3" height="18" fill="#ff0000" />
<rect x="149" y="108" width="1" height="16" fill="#ff4a00" />
<rect x="153" y="102" width="1" height="31" fill="#32cd32" />
<rect x="152" y="107" width="3" height="24" fill="#32cd32" />
<rect x="157" y="108" width="1" height="27" fill="#ff0000" />
<rect x="156" y="129" width="3" height="1" fill="#ff0000" />
<rect x="161" y="127" width="1" height="3" fill="#32cd32" />
<rect x="160" y="127" width="3" height="1" fill="#32cd32" />
<rect x="165" y="111" width="1" height="19" fill="#ff0000" />
<rect x="164" y="118" width="3" height="10" fill="#ff0000" />
<rect x="165" y="119" width="1" height="8" fill="#ff4a00" />
<rect x="169" y="103" width="1" height="16" fill="#ff0000" />
<rect x="168" y="108" width="3" height="10" fill="#ff0000" />
<rect x="169" y="109" width="1" height="8" fill="#ff4a00" />
<rect x="173" y="103" width="1" height="17" fill="#32cd32" />
<rect x="172" y="108" width="3" height="7" fill="#32cd32" />
<rect x="177" y="101" width="1" height="23" fill="#ff0000" />
<rect x="176" y="103" width="3" height="11" fill="#ff0000" />
<rect x="177" y="104" width="1" height="9" fill="#ff4a00" />
<rect x="181" y="103" width="1" height="12" fill="#32cd32" />
<rect x="180" y="103" width="3" height="1" fill="#32cd32" />
<rect x="185" y="105" width="1" height="5" fill="#ff0000" />
<rect x="184" y="106" width="3" height="2" fill="#ff0000" />
<rect x="189" y="103" width="1" height="17" fill="#ff0000" />
<rect x="188" y="105" width="3" height="1" fill="#ff0000" />
<rect x="193" y="103" width="1" height="46" fill="#32cd32" />
<rect x="192" y="105" width="3" height="38" fill="#32cd32" />
<rect x="197" y="127" width="1" height="26" fill="#ff0000" />
<rect x="196" y="127" width="3" height="16" fill="#ff0000" />
<rect x="197" y="128" width="1" height="14" fill="#ff4a00" />
<rect x="201" y="127" width="1" height="39" fill="#32cd32" />
<rect x="200" y="127" width="3" height="28" fill="#32cd32" />
<rect x="205" y="152" width="1" height="24" fill="#32cd32" />
<rect x="204" y="154" width="3" height="7" fill="#32cd32" />
<rect x="209" y="156" width="1" height="4" fill="#32cd32" />
<rect x="208" y="159" width="3" height="1" fill="#32cd32" />
<rect x="213" y="144" width="1" height="21" fill="#ff0000" />
<rect x="212" y="151" width="3" height="9" fill="#ff0000" />
<rect x="213" y="152" width="1" height="7" fill="#ff4a00" />
<rect x="217" y="144" width="1" height="31" fill="#32cd32" />
<rect x="216" y="151" width="3" height="18" fill="#32cd32" />
<rect x="221" y="160" width="1" height="31" fill="#32cd32" />
<rect x="220" y="168" width="3" height="19" fill="#32cd32" />
<rect x="225" y="183" width="1" height="24" fill="#32cd32" />
<rect x="224" y="186" width="3" height="20" fill="#32cd32" />
<rect x="229" y="186" width="1" height="26" fill="#ff0000" />
<rect x="228" y="188" width="3" height="18" fill="#ff0000" />
<rect x="229" y="189" width="1" height="16" fill="#ff4a00" />
<rect x="233" y="186" width="1" height="3" fill="#ff0000" />
<rect x="232" y="187" width="3" height="2" fill="#ff0000" />
<rect x="237" y="170" width="1" height="21" fill="#ff0000" />
<rect x="236" y="181" width="3" height="7" fill="#ff0000" />
<rect x="237" y="182" width="1" height="5" fill="#ff4a00" />
<rect x="241" y="171" width="1" height="34" fill="#32cd32" />
<rect x="240" y="181" width="3" height="20" fill="#32cd32" />
<rect x="245" y="199" width="1" height="21" fill="#32cd32" />
<rect x="244" y="200" width="3" height="15" fill="#32cd32" />
<rect x="249" y="204" width="1" height="19" fill="#ff0000" />
<rect x="248" y="211" width="3" height="4" fill="#ff0000" />
<rect x="249" y="212" width="1" height="2" fill="#ff4a00" />
<rect x="253" y="204" width="1" height="29" fill="#32cd32" />
<rect x="252" y="211" width="3" height="19" fill="#32cd32" />
<rect x="257" y="230" width="1" height="3" fill="#ff0000" />
<rect x="256" y="231" width="3" height="1" fill="#ff0000" />
<rect x="261" y="212" width="1" height="24" fill="#32cd32" />
<rect x="260" y="230" width="3" height="3" fill="#32cd32" />
<rect x="265" y="228" width="1" height="13" fill="#32cd32" />
<rect x="264" y="232" width="3" height="4" fill="#32cd32" />
<rect x="269" y="232" width="1" height="20" fill="#32cd32" />
<rect x="268" y="235" width="3" height="10" fill="#32cd32" />
<rect x="273" y="240" width="1" height="17" fill="#32cd32" />
<rect x="272" y="243" width="3" height="14" fill="#32cd32" />
<rect x="277" y="254" width="1" height="29" fill="#32cd32" />
<rect x="276" y="256" width="3" height="25" fill="#32cd32" />
<rect x="281" y="268" width="1" height="13" fill="#ff0000" />
<rect x="280" y="269" width="3" height="12" fill="#ff0000" />
<rect x="281" y="270" width="1" height="10" fill="#ff4a00" />
<rect x="285" y="262" width="1" height="20" fill="#ff0000" />
<rect x="284" y="268" width="3" height="2" fill="#ff0000" />
<rect x="289" y="257" width="1" height="48" fill="#32cd32" />
<rect x="288" y="268" width="3" height="10" fill="#32cd32" />
<rect x="293" y="256" width="1" height="34" fill="#32cd32" />
<rect x="292" y="277" width="3" height="9" fill="#32cd32" />
<rect x="297" y="279" width="1" height="15" fill="#32cd32" />
<rect x="296" y="284" width="3" height="10" fill="#32cd32" />
<rect x="301" y="292" width="1" height="41" fill="#32cd32" />
<rect x="300" y="293" width="3" height="39" fill="#32cd32" />
<rect x="305" y="322" width="1" height="10" fill="#ff0000" />
<rect x="304" y="323" width="3" height="9" fill="#ff0000" />
<rect x="305" y="324" width="1" height="7" fill="#ff4a00" />
<rect x="309" y="307" width="1" height="21" fill="#ff0000" />
<rect x="308" y="310" width="3" height="14" fill="#ff0000" />
<rect x="309" y="311" width="1" height="12" fill="#ff4a00" />
<rect x="313" y="277" width="1" height="38" fill="#ff0000" />
<rect x="312" y="278" width="3" height="32" fill="#ff0000" />
<rect x="313" y="279" width="1" height="30" fill="#ff4a00" />
<rect x="317" y="251" width="1" height="30" fill="#ff0000" />
<rect x="316" y="258" width="3" height="22" fill="#ff0000" />
<rect x="317" y="259" width="1" height="20" fill="#ff4a00" />
<rect x="321" y="250" width="1" height="23" fill="#32cd32" />
<rect x="320" y="258" width="3" height="10" fill="#32cd32" />
<rect x="325" y="252" width="1" height="23" fill="#ff0000" />
<rect x="324" y="258" width="3" height="10" fill="#ff0000" />
<rect x="325" y="259" width="1" height="8" fill="#ff4a00" />
<rect x="329" y="256" width="1" height="6" fill="#ff0000" />
<rect x="328" y="259" width="3" height="3" fill="#ff0000" />
<rect x="329" y="260" width="1" height="1" fill="#ff4a00" />
<rect x="333" y="254" width="1" height="29" fill="#32cd32" />
<rect x="332" y="259" width="3" height="16" fill="#32cd32" />
<rect x="337" y="272" width="1" height="20" fill="#32cd32" />
<rect x="336" y="274" width="3" height="13" fill="#32cd32" />
<rect x="341" y="254" width="1" height="38" fill="#ff0000" />
<rect x="340" y="259" width="3" height="28" fill="#ff0000" />
<rect x="341" y="260" width="1" height="26" fill="#ff4a00" />
<rect x="345" y="234" width="1" height="35" fill="#ff0000" />
<rect x="344" y="255" width="3" height="5" fill="#ff0000" />
<rect x="345" y="256" width="1" height="3" fill="#ff4a00" />
<rect x="349" y="252" width="1" height="22" fill="#32cd32" />
<rect x="348" y="255" width="3" height="18" fill="#32cd32" />
<rect x="353" y="275" width="1" height="10" fill="#32cd32" />
<rect x="352" y="275" width="3" height="6" fill="#32cd32" />
<rect x="357" y="276" width="1" height="19" fill="#32cd32" />
<rect x="356" y="280" width="3" height="5" fill="#32cd32" />
<rect x="361" y="263" width="1" height="26" fill="#ff0000" />
<rect x="360" y="267" width="3" height="17" fill="#ff0000" />
<rect x="361" y="268" width="1" height="15" fill="#ff4a00" />
<rect x="365" y="235" width="1" height="45" fill="#ff0000" />
<rect x="364" y="239" width="3" height="29" fill="#ff0000" />
<rect x="365" y="240" width="1" height="27" fill="#ff4a00" />
<rect x="369" y="222" width="1" height="25" fill="#ff0000" />
<rect x="368" y="230" width="3" height="10" fill="#ff0000" />
<rect x="369" y="231" width="1" height="8" fill="#ff4a00" />
<rect x="373" y="224" width="1" height="14" fill="#32cd32" />
<rect x="372" y="230" width="3" height="3" fill="#32cd32" />
<rect x="377" y="227" width="1" height="5" fill="#000" />
<rect x="376" y="231" width="3" height="1" fill="#000" />
<rect x="381" y="225" width="1" height="18" fill="#ff0000" />
<rect x="380" y="229" width="3" height="3" fill="#ff0000" />
<rect x="381" y="230" width="1" height="1" fill="#ff4a00" />
<rect x="385" y="217" width="1" height="20" fill="#32cd32" />
<rect x="384" y="228" width="3" height="3" fill="#32cd32" />
<rect x="389" y="213" width="1" height="26" fill="#ff0000" />
<rect x="388" y="219" width="3" height="11" fill="#ff0000" />
<rect x="389" y="220" width="1" height="9" fill="#ff4a00" />
<rect x="393" y="211" width="1" height="15" fill="#32cd32" />
<rect x="392" y="219" width="3" height="5" fill="#32cd32" />
<rect x="397" y="210" width="1" height="16" fill="#ff0000" />
<rect x="396" y="213" width="3" height="11" fill="#ff0000" />
<rect x="397" y="214" width="1" height="9" fill="#ff4a00" />
<rect x="401" y="211" width="1" height="5" fill="#ff0000" />
<rect x="400" y="215" width="3" height="1" fill="#ff0000" />
<rect x="405" y="211" width="1" height="41" fill="#32cd32" />
<rect x="404" y="215" width="3" height="32" fill="#32cd32" />
<rect x="409" y="223" width="1" height="29" fill="#ff0000" />
<rect x="408" y="227" width="3" height="20" fill="#ff0000" />
<rect x="409" y="228" width="1" height="18" fill="#ff4a00" />
<rect x="413" y="213" width="1" height="26" fill="#32cd32" />
<rect x="412" y="227" width="3" height="9" fill="#32cd32" />
<rect x="417" y="235" width="1" height="34" fill="#32cd32" />
<rect x="416" y="235" width="3" height="26" fill="#32cd32" />
<rect x="421" y="249" width="1" height="27" fill="#ff0000" />
<rect x="420" y="251" width="3" height="11" fill="#ff0000" />
<rect x="421" y="252" width="1" height="9" fill="#ff4a00" />
<rect x="425" y="251" width="1" height="5" fill="#ff0000" />
<rect x="424" y="254" width="3" height="1" fill="#ff0000" />
<rect x="429" y="243" width="1" height="24" fill="#ff0000" />
<rect x="428" y="254" width="3" height="1" fill="#ff0000" />
<rect x="433" y="238" width="1" height="27" fill="#ff0000" />
<rect x="432" y="240" width="3" height="14" fill="#ff0000" />
<rect x="433" y="241" width="1" height="12" fill="#ff4a00" />
<rect x="437" y="204" width="1" height="40" fill="#ff0000" />
<rect x="436" y="209" width="3" height="31" fill="#ff0000" />
<rect x="437" y="210" width="1" height="29" fill="#ff4a00" />
<rect x="441" y="194" width="1" height="19" fill="#ff0000" />
<rect x="440" y="209" width="3" height="1" fill="#ff0000" />
<rect x="445" y="203" width="1" height="43" fill="#32cd32" />
<rect x="444" y="210" width="3" height="32" fill="#32cd32" />
<rect x="449" y="236" width="1" height="6" fill="#ff0000" />
<rect x="448" y="236" width="3" height="2" fill="#ff0000" />
<rect x="453" y="231" width="1" height="16" fill="#32cd32" />
<rect x="452" y="237" width="3" height="3" fill="#32cd32" />
<rect x="457" y="232" width="1" height="26" fill="#32cd32" />
<rect x="456" y="239" width="3" height="12" fill="#32cd32" />
<rect x="461" y="228" width="1" height="27" fill="#ff0000" />
<rect x="460" y="237" width="3" height="13" fill="#ff0000" />
<rect x="461" y="238" width="1" height="11" fill="#ff4a00" />
<rect x="465" y="211" width="1" height="32" fill="#32cd32" />
<rect x="464" y="237" width="3" height="1" fill="#32cd32" />
<rect x="469" y="236" width="1" height="20" fill="#32cd32" />
<rect x="468" y="236" width="3" height="19" fill="#32cd32" />
<rect x="473" y="249" width="1" height="7" fill="#ff0000" />
<rect x="472" y="250" width="3" height="6" fill="#ff0000" />
<rect x="473" y="251" width="1" height="4" fill="#ff4a00" />
<rect x="477" y="250" width="1" height="43" fill="#32cd32" />
<rect x="476" y="250" width="3" height="15" fill="#32cd32" />
<rect x="481" y="254" width="1" height="25" fill="#ff0000" />
<rect x="480" y="262" width="3" height="3" fill="#ff0000" />
<rect x="481" y="263" width="1" height="1" fill="#ff4a00" />
<rect x="485" y="252" width="1" height="38" fill="#32cd32" />
<rect x="484" y="262" width="3" height="17" fill="#32cd32" />
<rect x="489" y="278" width="1" height="44" fill="#32cd32" />
<rect x="488" y="278" width="3" height="39" fill="#32cd32" />
<rect x="493" y="311" width="1" height="35" fill="#32cd32" />
<rect x="492" y="316" width="3" height="24" fill="#32cd32" />
<rect x="497" y="332" width="1" height="6" fill="#ff0000" />
<rect x="496" y="333" width="3" height="1" fill="#ff0000" />
<rect x="501" y="298" width="1" height="37" fill="#ff0000" />
<rect x="500" y="301" width="3" height="33" fill="#ff0000" />
<rect x="501" y="302" width="1" height="31" fill="#ff4a00" />
<rect x="505" y="271" width="1" height="46" fill="#ff0000" />
<rect x="504" y="273" width="3" height="28" fill="#ff0000" />
<rect x="505" y="274" width="1" height="26" fill="#ff4a00" />
<rect x="509" y="262" width="1" height="19" fill="#32cd32" />
<rect x="508" y="273" width="3" height="7" fill="#32cd32" />
<rect x="513" y="258" width="1" height="26" fill="#ff0000" />
<rect x="512" y="269" width="3" height="10" fill="#ff0000" />
<rect x="513" y="270" width="1" height="8" fill="#ff4a00" />
<rect x="517" y="265" width="1" height="44" fill="#32cd32" />
<rect x="516" y="269" width="3" height="30" fill="#32cd32" />
<rect x="521" y="294" width="1" height="4" fill="#32cd32" />
<rect x="520" y="296" width="3" height="1" fill="#32cd32" />
<rect x="525" y="274" width="1" height="30" fill="#ff0000" />
<rect x="524" y="276" width="3" height="21" fill="#ff0000" />
<rect x="525" y="277" width="1" height="19" fill="#ff4a00" />
<rect x="529" y="267" width="1" height="19" fill="#ff0000" />
<rect x="528" y="268" width="3" height="8" fill="#ff0000" />
<rect x="529" y="269" width="1" height="6" fill="#ff4a00" />
<rect x="533" y="246" width="1" height="24" fill="#ff0000" />
<rect x="532" y="254" width="3" height="15" fill="#ff0000" />
<rect x="533" y="255" width="1" height="13" fill="#ff4a00" />
<rect x="537" y="223" width="1" height="44" fill="#32cd32" />
<rect x="536" y="254" width="3" height="8" fill="#32cd32" />
<rect x="541" y="251" width="1" height="33" fill="#32cd32" />
<rect x="540" y="261" width="3" height="16" fill="#32cd32" />
<rect x="545" y="266" width="1" height="10" fill="#ff0000" />
<rect x="544" y="268" width="3" height="7" fill="#ff0000" />
<rect x="545" y="269" width="1" height="5" fill="#ff4a00" />
<rect x="549" y="267" width="1" height="28" fill="#32cd32" />
<rect x="548" y="268" width="3" height="6" fill="#32cd32" />
<rect x="553" y="263" width="1" height="25" fill="#ff0000" />
<rect x="552" y="267" width="3" height="7" fill="#ff0000" />
<rect x="553" y="268" width="1" height="5" fill="#ff4a00" />
<rect x="557" y="241" width="1" height="29" fill="#ff0000" />
<rect x="556" y="247" width="3" height="21" fill="#ff0000" />
<rect x="557" y="248" width="1" height="19" fill="#ff4a00" />
<rect x="561" y="237" width="1" height="30" fill="#32cd32" />
<rect x="560" y="247" width="3" height="4" fill="#32cd32" />
<rect x="565" y="232" width="1" height="28" fill="#32cd32" />
<rect x="564" y="250" width="3" height="2" fill="#32cd32" />
<rect x="569" y="255" width="1" height="5" fill="#32cd32" />
<rect x="568" y="256" width="3" height="1" fill="#32cd32" />
<rect x="573" y="234" width="1" height="24" fill="#ff0000" />
<rect x="572" y="251" width="3" height="6" fill="#ff0000" />
<rect x="573" y="252" width="1" height="4" fill="#ff4a00" />
<rect x="577" y="230" width="1" height="23" fill="#ff0000" />
<rect x="576" y="232" width="3" height="20" fill="#ff0000" />
<rect x="577" y="233" width="1" height="18" fill="#ff4a00" />
<rect x="581" y="208" width="1" height="29" fill="#ff0000" />
<rect x="580" y="232" width="3" height="1" fill="#ff0000" />
<rect x="585" y="231" width="1" height="60" fill="#32cd32" />
<rect x="584" y="232" width="3" height="30" fill="#32cd32" />
<rect x="589" y="228" width="1" height="42" fill="#ff0000" />
<rect x="588" y="230" width="3" height="32" fill="#ff0000" />
<rect x="589" y="231" width="1" height="30" fill="#ff4a00" />
<rect x="593" y="249" width="1" height="9" fill="#ff0000" />
<rect x="592" y="251" width="3" height="3" fill="#ff0000" />
<rect x="593" y="252" width="1" height="1" fill="#ff4a00" />
<rect x="597" y="215" width="1" height="44" fill="#ff0000" />
<rect x="596" y="219" width="3" height="33" fill="#ff0000" />
<rect x="597" y="220" width="1" height="31" fill="#ff4a00" />
<rect x="601" y="205" width="1" height="23" fill="#ff0000" />
<rect x="600" y="218" width="3" height="1" fill="#ff0000" />
<rect x="605" y="198" width="1" height="28" fill="#ff0000" />
<rect x="604" y="204" width="3" height="15" fill="#ff0000" />
<rect x="605" y="205" width="1" height="13" fill="#ff4a00" />
<rect x="609" y="180" width="1" height="32" fill="#ff0000" />
<rect x="608" y="185" width="3" height="19" fill="#ff0000" />
<rect x="609" y="186" width="1" height="17" fill="#ff4a00" />
<rect x="613" y="166" width="1" height="34" fill="#ff0000" />
<rect x="612" y="170" width="3" height="16" fill="#ff0000" />
<rect x="613" y="171" width="1" height="14" fill="#ff4a00" />
<rect x="617" y="159" width="1" height="19" fill="#ff0000" />
<rect x="616" y="160" width="3" height="11" fill="#ff0000" />
<rect x="617" y="161" width="1" height="9" fill="#ff4a00" />
<rect x="621" y="139" width="1" height="58" fill="#32cd32" />
<rect x="620" y="160" width="3" height="29" fill="#32cd32" />
<rect x="625" y="180" width="1" height="45" fill="#32cd32" />
<rect x="624" y="188" width="3" height="28" fill="#32cd32" />
<rect x="629" y="184" width="1" height="32" fill="#ff0000" />
<rect x="628" y="193" width="3" height="23" fill="#ff0000" />
<rect x="629" y="194" width="1" height="21" fill="#ff4a00" />
<rect x="633" y="171" width="1" height="36" fill="#ff0000" />
<rect x="632" y="172" width="3" height="22" fill="#ff0000" />
<rect x="633" y="173" width="1" height="20" fill="#ff4a00" />
<rect x="637" y="172" width="1" height="32" fill="#32cd32" />
<rect x="636" y="172" width="3" height="31" fill="#32cd32" />
<rect x="641" y="200" width="1" height="6" fill="#ff0000" />
<rect x="640" y="201" width="3" height="5" fill="#ff0000" />
<rect x="641" y="202" width="1" height="3" fill="#ff4a00" />
<rect x="645" y="202" width="1" height="49" fill="#32cd32" />
<rect x="644" y="202" width="3" height="44" fill="#32cd32" />
<rect x="649" y="232" width="1" height="28" fill="#32cd32" />
<rect x="648" y="245" width="3" height="5" fill="#32cd32" />
<rect x="653" y="202" width="1" height="52" fill="#ff0000" />
<rect x="652" y="206" width="3" height="43" fill="#ff0000" />
<rect x="653" y="207" width="1" height="41" fill="#ff4a00" />
<rect x="657" y="160" width="1" height="48" fill="#ff0000" />
<rect x="656" y="165" width="3" height="42" fill="#ff0000" />
<rect x="657" y="166" width="1" height="40" fill="#ff4a00" />
<rect x="661" y="149" width="1" height="26" fill="#ff0000" />
<rect x="660" y="154" width="3" height="12" fill="#ff0000" />
<rect x="661" y="155" width="1" height="10" fill="#ff4a00" />
<rect x="665" y="151" width="1" height="5" fill="#ff0000" />
<rect x="664" y="153" width="3" height="2" fill="#ff0000" />
<rect x="669" y="146" width="1" height="24" fill="#32cd32" />
<rect x="668" y="153" width="3" height="7" fill="#32cd32" />
<rect x="673" y="124" width="1" height="45" fill="#ff0000" />
<rect x="672" y="130" width="3" height="29" fill="#ff0000" />
<rect x="673" y="131" width="1" height="27" fill="#ff4a00" />
<rect x="677" y="111" width="1" height="25" fill="#ff0000" />
<rect x="676" y="114" width="3" height="17" fill="#ff0000" />
<rect x="677" y="115" width="1" height="15" fill="#ff4a00" />
<rect x="681" y="102" width="1" height="27" fill="#ff0000" />
<rect x="680" y="109" width="3" height="6" fill="#ff0000" />
<rect x="681" y="110" width="1" height="4" fill="#ff4a00" />
<rect x="685" y="98" width="1" height="19" fill="#ff0000" />
<rect x="684" y="104" width="3" height="6" fill="#ff0000" />
<rect x="685" y="105" width="1" height="4" fill="#ff4a00" />
<rect x="689" y="105" width="1" height="4" fill="#ff0000" />
<rect x="688" y="106" width="3" height="2" fill="#ff0000" />
<rect x="693" y="96" width="1" height="33" fill="#32cd32" />
<rect x="692" y="106" width="3" height="10" fill="#32cd32" />
<rect x="697" y="103" width="1" height="31" fill="#ff0000" />
<rect x="696" y="107" width="3" height="9" fill="#ff0000" />
<rect x="697" y="108" width="1" height="7" fill="#ff4a00" />
<rect x="701" y="98" width="1" height="19" fill="#32cd32" />
<rect x="700" y="108" width="3" height="6" fill="#32cd32" />
<rect x="705" y="103" width="1" height="25" fill="#32cd32" />
<rect x="704" y="113" width="3" height="5" fill="#32cd32" />
<rect x="709" y="103" width="1" height="23" fill="#ff0000" />
<rect x="708" y="116" width="3" height="2" fill="#ff0000" />
<rect x="713" y="118" width="1" height="3" fill="#32cd32" />
<rect x="712" y="119" width="3" height="2" fill="#32cd32" />
<rect x="717" y="89" width="1" height="32" fill="#ff0000" />
<rect x="716" y="95" width="3" height="26" fill="#ff0000" />
<rect x="717" y="96" width="1" height="24" fill="#ff4a00" />
<rect x="721" y="44" width="1" height="55" fill="#ff0000" />
<rect x="720" y="77" width="3" height="19" fill="#ff0000" />
<rect x="721" y="78" width="1" height="17" fill="#ff4a00" />
<rect x="725" y="73" width="1" height="48" fill="#32cd32" />
<rect x="724" y="76" width="3" height="37" fill="#32cd32" />
<rect x="729" y="108" width="1" height="21" fill="#32cd32" />
<rect x="728" y="111" width="3" height="13" fill="#32cd32" />
<rect x="733" y="117" width="1" height="30" fill="#32cd32" />
<rect x="732" y="123" width="3" height="9" fill="#32cd32" />
<rect x="737" y="130" width="1" height="9" fill="#32cd32" />
<rect x="736" y="130" width="3" height="8" fill="#32cd32" />
<rect x="741" y="131" width="1" height="21" fill="#32cd32" />
<rect x="740" y="138" width="3" height="14" fill="#32cd32" />
<rect x="745" y="117" width="1" height="39" fill="#ff0000" />
<rect x="744" y="134" width="3" height="18" fill="#ff0000" />
<rect x="745" y="135" width="1" height="16" fill="#ff4a00" />
<rect x="749" y="125" width="1" height="37" fill="#32cd32" />
<rect x="748" y="134" width="3" height="2" fill="#32cd32" />
<rect x="753" y="127" width="1" height="31" fill="#32cd32" />
<rect x="752" y="134" width="3" height="20" fill="#32cd32" />
<rect x="757" y="151" width="1" height="11" fill="#32cd32" />
<rect x="756" y="154" width="3" height="8" fill="#32cd32" />
<rect x="761" y="156" width="1" height="5" fill="#32cd32" />
<rect x="760" y="156" width="3" height="4" fill="#32cd32" />
<rect x="765" y="158" width="1" height="25" fill="#32cd32" />
<rect x="764" y="159" width="3" height="18" fill="#32cd32" />
<rect x="769" y="158" width="1" height="24" fill="#ff0000" />
<rect x="768" y="160" width="3" height="16" fill="#ff0000" />
<rect x="769" y="161" width="1" height="14" fill="#ff4a00" />
<rect x="773" y="132" width="1" height="38" fill="#ff0000" />
<rect x="772" y="138" width="3" height="23" fill="#ff0000" />
<rect x="773" y="139" width="1" height="21" fill="#ff4a00" />
<rect x="777" y="132" width="1" height="44" fill="#32cd32" />
<rect x="776" y="138" width="3" height="37" fill="#32cd32" />
<rect x="781" y="171" width="1" height="59" fill="#32cd32" />
<rect x="780" y="174" width="3" height="54" fill="#32cd32" />
<rect x="785" y="226" width="1" height="5" fill="#32cd32" />
<rect x="784" y="226" width="3" height="5" fill="#32cd32" />
<rect x="789" y="229" width="1" height="44" fill="#32cd32" />
<rect x="788" y="230" width="3" height="24" fill="#32cd32" />
<rect x="793" y="232" width="1" height="48" fill="#32cd32" />
<rect x="792" y="254" width="3" height="17" fill="#32cd32" />
<rect x="797" y="248" width="1" height="40" fill="#32cd32" />
<rect x="796" y="269" width="3" height="10" fill="#32cd32" />
<rect x="801" y="261" width="1" height="47" fill="#32cd32" />
<rect x="800" y="278" width="3" height="7" fill="#32cd32" />
<rect x="805" y="253" width="1" height="44" fill="#32cd32" />
<rect x="804" y="283" width="3" height="14" fill="#32cd32" />
<rect x="809" y="298" width="1" height="7" fill="#32cd32" />
<rect x="808" y="301" width="3" height="4" fill="#32cd32" />
<rect x="813" y="295" width="1" height="24" fill="#32cd32" />
<rect x="812" y="303" width="3" height="7" fill="#32cd32" />
<rect x="817" y="267" width="1" height="42" fill="#ff0000" />
<rect x="816" y="287" width="3" height="22" fill="#ff0000" />
<rect x="817" y="288" width="1" height="20" fill="#ff4a00" />
<rect x="821" y="216" width="1" height="77" fill="#ff0000" />
<rect x="820" y="222" width="3" height="66" fill="#ff0000" />
<rect x="821" y="223" width="1" height="64" fill="#ff4a00" />
<rect x="825" y="215" width="1" height="83" fill="#32cd32" />
<rect x="824" y="220" width="3" height="60" fill="#32cd32" />
<rect x="829" y="272" width="1" height="35" fill="#32cd32" />
<rect x="828" y="279" width="3" height="21" fill="#32cd32" />
<rect x="833" y="308" width="1" height="6" fill="#32cd32" />
<rect x="832" y="310" width="3" height="3" fill="#32cd32" />
<rect x="837" y="310" width="1" height="47" fill="#32cd32" />
<rect x="836" y="311" width="3" height="40" fill="#32cd32" />
<rect x="841" y="337" width="1" height="34" fill="#32cd32" />
<rect x="840" y="351" width="3" height="10" fill="#32cd32" />
<rect x="845" y="308" width="1" height="56" fill="#32cd32" />
<rect x="844" y="360" width="3" height="4" fill="#32cd32" />
<rect x="849" y="351" width="1" height="55" fill="#32cd32" />
<rect x="848" y="363" width="3" height="26" fill="#32cd32" />
<rect x="853" y="361" width="1" height="31" fill="#ff0000" />
<rect x="852" y="365" width="3" height="23" fill="#ff0000" />
<rect x="853" y="366" width="1" height="21" fill="#ff4a00" />
<rect x="857" y="351" width="1" height="9" fill="#ff0000" />
<rect x="856" y="354" width="3" height="2" fill="#ff0000" />
<rect x="861" y="339" width="1" height="48" fill="#ff0000" />
<rect x="860" y="343" width="3" height="11" fill="#ff0000" />
<rect x="861" y="344" width="1" height="9" fill="#ff4a00" />
<rect x="865" y="313" width="1" height="31" fill="#ff0000" />
<rect x="864" y="318" width="3" height="26" fill="#ff0000" />
<rect x="865" y="319" width="1" height="24" fill="#ff4a00" />
<rect x="869" y="311" width="1" height="43" fill="#32cd32" />
<rect x="868" y="318" width="3" height="32" fill="#32cd32" />
<rect x="873" y="299" width="1" height="53" fill="#ff0000" />
<rect x="872" y="313" width="3" height="37" fill="#ff0000" />
<rect x="873" y="314" width="1" height="35" fill="#ff4a00" />
<rect x="877" y="299" width="1" height="32" fill="#32cd32" />
<rect x="876" y="313" width="3" height="11" fill="#32cd32" />
<rect x="881" y="301" width="1" height="6" fill="#32cd32" />
<rect x="880" y="304" width="3" height="1" fill="#32cd32" />
<rect x="885" y="276" width="1" height="31" fill="#ff0000" />
<rect x="884" y="293" width="3" height="13" fill="#ff0000" />
<rect x="885" y="294" width="1" height="11" fill="#ff4a00" />
<rect x="889" y="279" width="1" height="28" fill="#ff0000" />
<rect x="888" y="287" width="3" height="8" fill="#ff0000" />
<rect x="889" y="288" width="1" height="6" fill="#ff4a00" />
<rect x="893" y="279" width="1" height="38" fill="#32cd32" />
<rect x="892" y="287" width="3" height="6" fill="#32cd32" />
<rect x="897" y="283" width="1" height="24" fill="#ff0000" />
<rect x="896" y="288" width="3" height="5" fill="#ff0000" />
<rect x="897" y="289" width="1" height="3" fill="#ff4a00" />
<rect x="901" y="259" width="1" height="34" fill="#ff0000" />
<rect x="900" y="263" width="3" height="26" fill="#ff0000" />
<rect x="901" y="264" width="1" height="24" fill="#ff4a00" />
<rect x="905" y="259" width="1" height="6" fill="#ff0000" />
<rect x="904" y="262" width="3" height="3" fill="#ff0000" />
<rect x="905" y="263" width="1" height="1" fill="#ff4a00" />
<rect x="909" y="244" width="1" height="20" fill="#ff0000" />
<rect x="908" y="246" width="3" height="17" fill="#ff0000" />
<rect x="909" y="247" width="1" height="15" fill="#ff4a00" />
<rect x="913" y="243" width="1" height="24" fill="#32cd32" />
<rect x="912" y="247" width="3" height="6" fill="#32cd32" />
<rect x="917" y="231" width="1" height="33" fill="#32cd32" />
<rect x="916" y="251" width="3" height="7" fill="#32cd32" />
<rect x="921" y="214" width="1" height="57" fill="#ff0000" />
<rect x="920" y="216" width="3" height="42" fill="#ff0000" />
<rect x="921" y="217" width="1" height="40" fill="#ff4a00" />
<rect x="925" y="208" width="1" height="13" fill="#32cd32" />
<rect x="924" y="216" width="3" height="4" fill="#32cd32" />
</g>
<rect x="1168" y="214" width="42" height="11" fill="#000" shape-rendering="crispEdges"/>
<text transform="translate(1173,222.4) skewX(0.05)" font-size="9" fill="#fff" textLength="33.2" lengthAdjust="spacingAndGlyphs" stroke="#fff" stroke-width="0.25">0.72557</text>
<g shape-rendering="crispEdges">
<rect x="1169" y="85" width="41" height="11" fill="#ff0000" />
<rect x="1169" y="151" width="41" height="11" fill="#ff0000" />
<rect x="1169" y="216" width="41" height="11" fill="#00ff00" />
<rect x="1169" y="281" width="41" height="11" fill="#0000cd" />
<rect x="1169" y="343" width="41" height="11" fill="#0000cd" />
</g>
<text transform="translate(1173,94.2) skewX(0.05)" font-size="9" fill="#fff" textLength="33.2" lengthAdjust="spacingAndGlyphs" stroke="#fff" stroke-width="0.25">0.75512</text>
<text transform="translate(1173,160.2) skewX(0.05)" font-size="9" fill="#fff" textLength="33.2" lengthAdjust="spacingAndGlyphs" stroke="#fff" stroke-width="0.25">0.74002</text>
<text transform="translate(1173,225.2) skewX(0.05)" font-size="9" fill="#fff" textLength="33.2" lengthAdjust="spacingAndGlyphs" stroke="#fff" stroke-width="0.25">0.72504</text>
<text transform="translate(1173,290.2) skewX(0.05)" font-size="9" fill="#fff" textLength="33.2" lengthAdjust="spacingAndGlyphs" stroke="#fff" stroke-width="0.25">0.71013</text>
<text transform="translate(1173,352.2) skewX(0.05)" font-size="9" fill="#fff" textLength="33.2" lengthAdjust="spacingAndGlyphs" stroke="#fff" stroke-width="0.25">0.69582</text>
<path d="M7.5 35.5 L11.5 30.5 L15.5 35.5 Z" fill="#000"/>
<text transform="translate(20.3,35.7) skewX(0.05)" font-size="9" fill="#000" textLength="68" lengthAdjust="spacingAndGlyphs" stroke="#000" stroke-width="0.25">AUDUSD-,Daily</text>
<text transform="translate(95,35.7) skewX(0.05)" font-size="9" fill="#000" textLength="140.6" lengthAdjust="spacingAndGlyphs" stroke="#000" stroke-width="0.25">0.72632 0.72818 0.72532 0.72557</text>
<g>
<rect x="6" y="42" width="223" height="60" fill="#fff" />
<path d="M8 44 H59.5 V68.3 H117 V101 H8 Z" fill="url(#gBot)"/>
<path d="M8 44 H59.5 V68.3 H8 Z" fill="url(#gTop)"/>
<path d="M175.3 44 H227 V101 H119.2 V68.3 H175.3 Z" fill="url(#gBot)"/>
<path d="M175.3 44 H227 V68.3 H175.3 Z" fill="url(#gTop)"/>
<path d="M8.5 44.5 H59 V68.8 H116.5 V100.5 H8.5 Z" fill="none" stroke="#c00000" stroke-width="1"/>
<path d="M175.8 44.5 H226.5 V100.5 H119.7 V68.8 H175.8 Z" fill="none" stroke="#c00000" stroke-width="1"/>
<rect x="12" y="67" width="44" height="1" fill="#a00000" />
<rect x="12" y="68" width="44" height="1" fill="#ee6060" />
<rect x="179" y="67" width="44" height="1" fill="#a00000" />
<rect x="179" y="68" width="44" height="1" fill="#ee6060" />
<rect x="62.5" y="44.5" width="110" height="21" fill="#ffffff" stroke="#adadad" stroke-width="1"/>
<rect x="63.5" y="45.5" width="19" height="19" fill="url(#gBtn)" stroke="#b9b9b9" stroke-width="1"/>
<rect x="152.5" y="45.5" width="19" height="19" fill="url(#gBtn)" stroke="#b9b9b9" stroke-width="1"/>
<path d="M69.7 53 H75.3 L72.5 56.3 Z" fill="#4862c4"/>
<path d="M158.7 56.3 H164.3 L161.5 53 Z" fill="#4862c4"/>
<text transform="translate(124.3,58.8) skewX(0.05)" font-size="12" fill="#000" textLength="23.1" lengthAdjust="spacingAndGlyphs" >2.00</text>
<text transform="translate(20.3,60) skewX(0.05)" font-size="12" fill="#fff" textLength="25.3" lengthAdjust="spacingAndGlyphs" >SELL</text>
<text transform="translate(188.4,60) skewX(0.05)" font-size="12" fill="#fff" textLength="22.9" lengthAdjust="spacingAndGlyphs" >BUY</text>
<text transform="translate(28,95.9) skewX(0.05)" font-size="12" fill="#fff" textLength="23.9" lengthAdjust="spacingAndGlyphs" font-weight="bold" >0.72</text>
<text transform="translate(138,95.9) skewX(0.05)" font-size="12" fill="#fff" textLength="23.9" lengthAdjust="spacingAndGlyphs" font-weight="bold" >0.72</text>
<text transform="translate(56.4,95.9) skewX(0.05)" font-size="35" fill="#fff" textLength="33.4" lengthAdjust="spacingAndGlyphs" stroke="url(#gBot)" stroke-width="0.5">55</text>
<text transform="translate(167.6,95.9) skewX(0.05)" font-size="35" fill="#fff" textLength="34.4" lengthAdjust="spacingAndGlyphs" stroke="url(#gBot)" stroke-width="0.5">58</text>
<text transform="translate(95.8,79.9) skewX(0.05)" font-size="12" fill="#fff" textLength="5.5" lengthAdjust="spacingAndGlyphs" font-weight="bold" >7</text>
<text transform="translate(205.8,79.9) skewX(0.05)" font-size="12" fill="#fff" textLength="7.4" lengthAdjust="spacingAndGlyphs" font-weight="bold" >0</text>
</g>
<g shape-rendering="crispEdges">
<rect x="4" y="440" width="3" height="7" fill="#c0c0c0" />
<rect x="8" y="440" width="3" height="7" fill="#c0c0c0" />
<rect x="12" y="441" width="3" height="6" fill="#c0c0c0" />
<rect x="16" y="442" width="3" height="5" fill="#c0c0c0" />
<rect x="20" y="442" width="3" height="5" fill="#c0c0c0" />
<rect x="24" y="443" width="3" height="4" fill="#c0c0c0" />
<rect x="28" y="444" width="3" height="3" fill="#c0c0c0" />
<rect x="32" y="446" width="3" height="1" fill="#c0c0c0" />
<rect x="36" y="447" width="3" height="2" fill="#c0c0c0" />
<rect x="40" y="447" width="3" height="4" fill="#c0c0c0" />
<rect x="44" y="447" width="3" height="5" fill="#c0c0c0" />
<rect x="48" y="447" width="3" height="7" fill="#c0c0c0" />
<rect x="52" y="447" width="3" height="9" fill="#c0c0c0" />
<rect x="56" y="447" width="3" height="8" fill="#c0c0c0" />
<rect x="60" y="447" width="3" height="8" fill="#c0c0c0" />
<rect x="64" y="447" width="3" height="8" fill="#c0c0c0" />
<rect x="68" y="447" width="3" height="7" fill="#c0c0c0" />
<rect x="72" y="447" width="3" height="7" fill="#c0c0c0" />
<rect x="76" y="447" width="3" height="10" fill="#c0c0c0" />
<rect x="80" y="447" width="3" height="11" fill="#c0c0c0" />
<rect x="84" y="447" width="3" height="10" fill="#c0c0c0" />
<rect x="88" y="447" width="3" height="8" fill="#c0c0c0" />
<rect x="92" y="447" width="3" height="7" fill="#c0c0c0" />
<rect x="96" y="447" width="3" height="6" fill="#c0c0c0" />
<rect x="100" y="447" width="3" height="5" fill="#c0c0c0" />
<rect x="104" y="447" width="3" height="4" fill="#c0c0c0" />
<rect x="108" y="447" width="3" height="2" fill="#c0c0c0" />
<rect x="112" y="447" width="3" height="1" fill="#c0c0c0" />
<rect x="116" y="446" width="3" height="1" fill="#c0c0c0" />
<rect x="120" y="445" width="3" height="2" fill="#c0c0c0" />
<rect x="124" y="443" width="3" height="4" fill="#c0c0c0" />
<rect x="128" y="441" width="3" height="6" fill="#c0c0c0" />
<rect x="132" y="439" width="3" height="8" fill="#c0c0c0" />
<rect x="136" y="437" width="3" height="10" fill="#c0c0c0" />
<rect x="140" y="436" width="3" height="11" fill="#c0c0c0" />
<rect x="144" y="434" width="3" height="13" fill="#c0c0c0" />
<rect x="148" y="431" width="3" height="16" fill="#c0c0c0" />
<rect x="152" y="430" width="3" height="17" fill="#c0c0c0" />
<rect x="156" y="430" width="3" height="17" fill="#c0c0c0" />
<rect x="160" y="430" width="3" height="17" fill="#c0c0c0" />
<rect x="164" y="430" width="3" height="17" fill="#c0c0c0" />
<rect x="168" y="429" width="3" height="18" fill="#c0c0c0" />
<rect x="172" y="429" width="3" height="18" fill="#c0c0c0" />
<rect x="176" y="428" width="3" height="19" fill="#c0c0c0" />
<rect x="180" y="428" width="3" height="19" fill="#c0c0c0" />
<rect x="184" y="428" width="3" height="19" fill="#c0c0c0" />
<rect x="188" y="428" width="3" height="19" fill="#c0c0c0" />
<rect x="192" y="431" width="3" height="16" fill="#c0c0c0" />
<rect x="196" y="433" width="3" height="14" fill="#c0c0c0" />
<rect x="200" y="436" width="3" height="11" fill="#c0c0c0" />
<rect x="204" y="439" width="3" height="8" fill="#c0c0c0" />
<rect x="208" y="441" width="3" height="6" fill="#c0c0c0" />
<rect x="212" y="442" width="3" height="5" fill="#c0c0c0" />
<rect x="216" y="444" width="3" height="3" fill="#c0c0c0" />
<rect x="220" y="447" width="3" height="1" fill="#c0c0c0" />
<rect x="224" y="447" width="3" height="5" fill="#c0c0c0" />
<rect x="228" y="447" width="3" height="6" fill="#c0c0c0" />
<rect x="232" y="447" width="3" height="7" fill="#c0c0c0" />
<rect x="236" y="447" width="3" height="8" fill="#c0c0c0" />
<rect x="240" y="447" width="3" height="9" fill="#c0c0c0" />
<rect x="244" y="447" width="3" height="11" fill="#c0c0c0" />
<rect x="248" y="447" width="3" height="12" fill="#c0c0c0" />
<rect x="252" y="447" width="3" height="14" fill="#c0c0c0" />
<rect x="256" y="447" width="3" height="16" fill="#c0c0c0" />
<rect x="260" y="447" width="3" height="17" fill="#c0c0c0" />
<rect x="264" y="447" width="3" height="18" fill="#c0c0c0" />
<rect x="268" y="447" width="3" height="19" fill="#c0c0c0" />
<rect x="272" y="447" width="3" height="20" fill="#c0c0c0" />
<rect x="276" y="447" width="3" height="21" fill="#c0c0c0" />
<rect x="280" y="447" width="3" height="23" fill="#c0c0c0" />
<rect x="284" y="447" width="3" height="24" fill="#c0c0c0" />
<rect x="288" y="447" width="3" height="24" fill="#c0c0c0" />
<rect x="292" y="447" width="3" height="25" fill="#c0c0c0" />
<rect x="296" y="447" width="3" height="26" fill="#c0c0c0" />
<rect x="300" y="447" width="3" height="28" fill="#c0c0c0" />
<rect x="304" y="447" width="3" height="30" fill="#c0c0c0" />
<rect x="308" y="447" width="3" height="30" fill="#c0c0c0" />
<rect x="312" y="447" width="3" height="27" fill="#c0c0c0" />
<rect x="316" y="447" width="3" height="24" fill="#c0c0c0" />
<rect x="320" y="447" width="3" height="21" fill="#c0c0c0" />
<rect x="324" y="447" width="3" height="19" fill="#c0c0c0" />
<rect x="328" y="447" width="3" height="17" fill="#c0c0c0" />
<rect x="332" y="447" width="3" height="16" fill="#c0c0c0" />
<rect x="336" y="447" width="3" height="15" fill="#c0c0c0" />
<rect x="340" y="447" width="3" height="13" fill="#c0c0c0" />
<rect x="344" y="447" width="3" height="11" fill="#c0c0c0" />
<rect x="348" y="447" width="3" height="11" fill="#c0c0c0" />
<rect x="352" y="447" width="3" height="11" fill="#c0c0c0" />
<rect x="356" y="447" width="3" height="11" fill="#c0c0c0" />
<rect x="360" y="447" width="3" height="10" fill="#c0c0c0" />
<rect x="364" y="447" width="3" height="7" fill="#c0c0c0" />
<rect x="368" y="447" width="3" height="4" fill="#c0c0c0" />
<rect x="372" y="447" width="3" height="2" fill="#c0c0c0" />
<rect x="376" y="446" width="3" height="1" fill="#c0c0c0" />
<rect x="380" y="445" width="3" height="2" fill="#c0c0c0" />
<rect x="384" y="444" width="3" height="3" fill="#c0c0c0" />
<rect x="388" y="442" width="3" height="5" fill="#c0c0c0" />
<rect x="392" y="441" width="3" height="6" fill="#c0c0c0" />
<rect x="396" y="440" width="3" height="7" fill="#c0c0c0" />
<rect x="400" y="439" width="3" height="8" fill="#c0c0c0" />
<rect x="404" y="441" width="3" height="6" fill="#c0c0c0" />
<rect x="408" y="441" width="3" height="6" fill="#c0c0c0" />
<rect x="412" y="441" width="3" height="6" fill="#c0c0c0" />
<rect x="416" y="443" width="3" height="4" fill="#c0c0c0" />
<rect x="420" y="444" width="3" height="3" fill="#c0c0c0" />
<rect x="424" y="446" width="3" height="1" fill="#c0c0c0" />
<rect x="428" y="446" width="3" height="1" fill="#c0c0c0" />
<rect x="432" y="446" width="3" height="1" fill="#c0c0c0" />
<rect x="436" y="444" width="3" height="3" fill="#c0c0c0" />
<rect x="440" y="442" width="3" height="5" fill="#c0c0c0" />
<rect x="444" y="443" width="3" height="4" fill="#c0c0c0" />
<rect x="448" y="445" width="3" height="2" fill="#c0c0c0" />
<rect x="452" y="445" width="3" height="2" fill="#c0c0c0" />
<rect x="456" y="445" width="3" height="2" fill="#c0c0c0" />
<rect x="460" y="445" width="3" height="2" fill="#c0c0c0" />
<rect x="464" y="445" width="3" height="2" fill="#c0c0c0" />
<rect x="468" y="447" width="3" height="1" fill="#c0c0c0" />
<rect x="472" y="447" width="3" height="1" fill="#c0c0c0" />
<rect x="476" y="447" width="3" height="3" fill="#c0c0c0" />
<rect x="480" y="447" width="3" height="4" fill="#c0c0c0" />
<rect x="484" y="447" width="3" height="5" fill="#c0c0c0" />
<rect x="488" y="447" width="3" height="9" fill="#c0c0c0" />
<rect x="492" y="447" width="3" height="13" fill="#c0c0c0" />
<rect x="496" y="447" width="3" height="16" fill="#c0c0c0" />
<rect x="500" y="447" width="3" height="16" fill="#c0c0c0" />
<rect x="504" y="447" width="3" height="14" fill="#c0c0c0" />
<rect x="508" y="447" width="3" height="13" fill="#c0c0c0" />
<rect x="512" y="447" width="3" height="11" fill="#c0c0c0" />
<rect x="516" y="447" width="3" height="11" fill="#c0c0c0" />
<rect x="520" y="447" width="3" height="11" fill="#c0c0c0" />
<rect x="524" y="447" width="3" height="10" fill="#c0c0c0" />
<rect x="528" y="447" width="3" height="8" fill="#c0c0c0" />
<rect x="532" y="447" width="3" height="6" fill="#c0c0c0" />
<rect x="536" y="447" width="3" height="5" fill="#c0c0c0" />
<rect x="540" y="447" width="3" height="4" fill="#c0c0c0" />
<rect x="544" y="447" width="3" height="4" fill="#c0c0c0" />
<rect x="548" y="447" width="3" height="3" fill="#c0c0c0" />
<rect x="552" y="447" width="3" height="3" fill="#c0c0c0" />
<rect x="556" y="447" width="3" height="1" fill="#c0c0c0" />
<rect x="560" y="446" width="3" height="1" fill="#c0c0c0" />
<rect x="564" y="445" width="3" height="2" fill="#c0c0c0" />
<rect x="568" y="445" width="3" height="2" fill="#c0c0c0" />
<rect x="572" y="444" width="3" height="3" fill="#c0c0c0" />
<rect x="576" y="442" width="3" height="5" fill="#c0c0c0" />
<rect x="580" y="441" width="3" height="6" fill="#c0c0c0" />
<rect x="584" y="442" width="3" height="5" fill="#c0c0c0" />
<rect x="588" y="441" width="3" height="6" fill="#c0c0c0" />
<rect x="592" y="441" width="3" height="6" fill="#c0c0c0" />
<rect x="596" y="440" width="3" height="7" fill="#c0c0c0" />
<rect x="600" y="439" width="3" height="8" fill="#c0c0c0" />
<rect x="604" y="437" width="3" height="10" fill="#c0c0c0" />
<rect x="608" y="434" width="3" height="13" fill="#c0c0c0" />
<rect x="612" y="432" width="3" height="15" fill="#c0c0c0" />
<rect x="616" y="429" width="3" height="18" fill="#c0c0c0" />
<rect x="620" y="429" width="3" height="18" fill="#c0c0c0" />
<rect x="624" y="431" width="3" height="16" fill="#c0c0c0" />
<rect x="628" y="431" width="3" height="16" fill="#c0c0c0" />
<rect x="632" y="430" width="3" height="17" fill="#c0c0c0" />
<rect x="636" y="431" width="3" height="16" fill="#c0c0c0" />
<rect x="640" y="433" width="3" height="14" fill="#c0c0c0" />
<rect x="644" y="437" width="3" height="10" fill="#c0c0c0" />
<rect x="648" y="440" width="3" height="7" fill="#c0c0c0" />
<rect x="652" y="440" width="3" height="7" fill="#c0c0c0" />
<rect x="656" y="437" width="3" height="10" fill="#c0c0c0" />
<rect x="660" y="436" width="3" height="11" fill="#c0c0c0" />
<rect x="664" y="433" width="3" height="14" fill="#c0c0c0" />
<rect x="668" y="432" width="3" height="15" fill="#c0c0c0" />
<rect x="672" y="430" width="3" height="17" fill="#c0c0c0" />
<rect x="676" y="427" width="3" height="20" fill="#c0c0c0" />
<rect x="680" y="425" width="3" height="22" fill="#c0c0c0" />
<rect x="684" y="423" width="3" height="24" fill="#c0c0c0" />
<rect x="688" y="422" width="3" height="25" fill="#c0c0c0" />
<rect x="692" y="422" width="3" height="25" fill="#c0c0c0" />
<rect x="696" y="422" width="3" height="25" fill="#c0c0c0" />
<rect x="700" y="422" width="3" height="25" fill="#c0c0c0" />
<rect x="704" y="423" width="3" height="24" fill="#c0c0c0" />
<rect x="708" y="424" width="3" height="23" fill="#c0c0c0" />
<rect x="712" y="425" width="3" height="22" fill="#c0c0c0" />
<rect x="716" y="425" width="3" height="22" fill="#c0c0c0" />
<rect x="720" y="424" width="3" height="23" fill="#c0c0c0" />
<rect x="724" y="425" width="3" height="22" fill="#c0c0c0" />
<rect x="728" y="427" width="3" height="20" fill="#c0c0c0" />
<rect x="732" y="430" width="3" height="17" fill="#c0c0c0" />
<rect x="736" y="432" width="3" height="15" fill="#c0c0c0" />
<rect x="740" y="435" width="3" height="12" fill="#c0c0c0" />
<rect x="744" y="437" width="3" height="10" fill="#c0c0c0" />
<rect x="748" y="438" width="3" height="9" fill="#c0c0c0" />
<rect x="752" y="440" width="3" height="7" fill="#c0c0c0" />
<rect x="756" y="443" width="3" height="4" fill="#c0c0c0" />
<rect x="760" y="444" width="3" height="3" fill="#c0c0c0" />
<rect x="764" y="447" width="3" height="1" fill="#c0c0c0" />
<rect x="768" y="447" width="3" height="2" fill="#c0c0c0" />
<rect x="772" y="447" width="3" height="1" fill="#c0c0c0" />
<rect x="776" y="447" width="3" height="3" fill="#c0c0c0" />
<rect x="780" y="447" width="3" height="8" fill="#c0c0c0" />
<rect x="784" y="447" width="3" height="11" fill="#c0c0c0" />
<rect x="788" y="447" width="3" height="16" fill="#c0c0c0" />
<rect x="792" y="447" width="3" height="20" fill="#c0c0c0" />
<rect x="796" y="447" width="3" height="24" fill="#c0c0c0" />
<rect x="800" y="447" width="3" height="26" fill="#c0c0c0" />
<rect x="804" y="447" width="3" height="29" fill="#c0c0c0" />
<rect x="808" y="447" width="3" height="32" fill="#c0c0c0" />
<rect x="812" y="447" width="3" height="33" fill="#c0c0c0" />
<rect x="816" y="447" width="3" height="33" fill="#c0c0c0" />
<rect x="820" y="447" width="3" height="28" fill="#c0c0c0" />
<rect x="824" y="447" width="3" height="28" fill="#c0c0c0" />
<rect x="828" y="447" width="3" height="29" fill="#c0c0c0" />
<rect x="832" y="447" width="3" height="30" fill="#c0c0c0" />
<rect x="836" y="447" width="3" height="32" fill="#c0c0c0" />
<rect x="840" y="447" width="3" height="35" fill="#c0c0c0" />
<rect x="844" y="447" width="3" height="37" fill="#c0c0c0" />
<rect x="848" y="447" width="3" height="39" fill="#c0c0c0" />
<rect x="852" y="447" width="3" height="39" fill="#c0c0c0" />
<rect x="856" y="447" width="3" height="38" fill="#c0c0c0" />
<rect x="860" y="447" width="3" height="36" fill="#c0c0c0" />
<rect x="864" y="447" width="3" height="33" fill="#c0c0c0" />
<rect x="868" y="447" width="3" height="32" fill="#c0c0c0" />
<rect x="872" y="447" width="3" height="28" fill="#c0c0c0" />
<rect x="876" y="447" width="3" height="26" fill="#c0c0c0" />
<rect x="880" y="447" width="3" height="22" fill="#c0c0c0" />
<rect x="884" y="447" width="3" height="19" fill="#c0c0c0" />
<rect x="888" y="447" width="3" height="15" fill="#c0c0c0" />
<rect x="892" y="447" width="3" height="13" fill="#c0c0c0" />
<rect x="896" y="447" width="3" height="10" fill="#c0c0c0" />
<rect x="900" y="447" width="3" height="7" fill="#c0c0c0" />
<rect x="904" y="447" width="3" height="4" fill="#c0c0c0" />
<rect x="908" y="447" width="3" height="1" fill="#c0c0c0" />
<rect x="912" y="444" width="3" height="3" fill="#c0c0c0" />
<rect x="916" y="443" width="3" height="4" fill="#c0c0c0" />
<rect x="920" y="439" width="3" height="8" fill="#c0c0c0" />
<rect x="924" y="437" width="3" height="10" fill="#c0c0c0" />
</g>
<path d="M704 423h24v1h-24zM700 424h4v1h-4zM728 424h4v1h-4zM697 425h3v1h-3zM732 425h4v1h-4zM695 426h2v1h-2zM736 426h3v1h-3zM693 427h2v1h-2zM739 427h2v1h-2zM691 428h2v1h-2zM741 428h3v1h-3zM180 429h20v1h-20zM689 429h2v1h-2zM744 429h4v1h-4zM176 430h4v1h-4zM200 430h4v1h-4zM687 430h2v1h-2zM748 430h4v1h-4zM172 431h4v1h-4zM204 431h4v1h-4zM636 431h12v1h-12zM685 431h2v1h-2zM752 431h3v1h-3zM165 432h7v1h-7zM208 432h3v1h-3zM632 432h4v1h-4zM648 432h4v1h-4zM683 432h2v1h-2zM755 432h2v1h-2zM163 433h2v1h-2zM211 433h2v1h-2zM628 433h4v1h-4zM652 433h4v1h-4zM680 433h3v1h-3zM757 433h1v1h-1zM160 434h3v1h-3zM213 434h2v1h-2zM625 434h3v1h-3zM656 434h4v1h-4zM676 434h4v1h-4zM758 434h2v1h-2zM157 435h3v1h-3zM215 435h2v1h-2zM623 435h2v1h-2zM660 435h16v1h-16zM760 435h1v1h-1zM155 436h2v1h-2zM217 436h3v1h-3zM620 436h3v1h-3zM761 436h1v1h-1zM152 437h3v1h-3zM220 437h2v1h-2zM616 437h4v1h-4zM762 437h2v1h-2zM149 438h3v1h-3zM222 438h2v1h-2zM612 438h4v1h-4zM764 438h1v1h-1zM147 439h2v1h-2zM224 439h1v1h-1zM608 439h4v1h-4zM765 439h3v1h-3zM145 440h2v1h-2zM225 440h2v1h-2zM604 440h4v1h-4zM768 440h3v1h-3zM16 441h16v1h-16zM143 441h2v1h-2zM227 441h2v1h-2zM412 441h16v1h-16zM600 441h4v1h-4zM771 441h2v1h-2zM13 442h3v1h-3zM32 442h4v1h-4zM141 442h2v1h-2zM229 442h1v1h-1zM408 442h4v1h-4zM428 442h4v1h-4zM596 442h4v1h-4zM773 442h3v1h-3zM11 443h2v1h-2zM36 443h4v1h-4zM139 443h2v1h-2zM230 443h2v1h-2zM400 443h8v1h-8zM432 443h4v1h-4zM588 443h8v1h-8zM776 443h3v1h-3zM9 444h2v1h-2zM40 444h4v1h-4zM136 444h3v1h-3zM232 444h1v1h-1zM397 444h3v1h-3zM436 444h20v1h-20zM460 444h16v1h-16zM584 444h4v1h-4zM779 444h2v1h-2zM7 445h2v1h-2zM44 445h4v1h-4zM133 445h3v1h-3zM233 445h3v1h-3zM395 445h2v1h-2zM456 445h4v1h-4zM476 445h8v1h-8zM580 445h4v1h-4zM781 445h2v1h-2zM5 446h2v1h-2zM48 446h4v1h-4zM131 446h2v1h-2zM236 446h3v1h-3zM393 446h2v1h-2zM484 446h4v1h-4zM576 446h4v1h-4zM783 446h2v1h-2zM52 447h4v1h-4zM128 447h3v1h-3zM239 447h2v1h-2zM391 447h2v1h-2zM488 447h3v1h-3zM568 447h8v1h-8zM785 447h1v1h-1zM56 448h3v1h-3zM124 448h4v1h-4zM241 448h2v1h-2zM388 448h3v1h-3zM491 448h2v1h-2zM564 448h4v1h-4zM786 448h2v1h-2zM925 448h1v1h-1zM59 449h2v1h-2zM121 449h3v1h-3zM243 449h2v1h-2zM385 449h3v1h-3zM493 449h2v1h-2zM560 449h4v1h-4zM788 449h1v1h-1zM923 449h2v1h-2zM61 450h2v1h-2zM119 450h2v1h-2zM245 450h2v1h-2zM383 450h2v1h-2zM495 450h2v1h-2zM556 450h4v1h-4zM789 450h1v1h-1zM921 450h2v1h-2zM63 451h2v1h-2zM116 451h3v1h-3zM247 451h2v1h-2zM380 451h3v1h-3zM497 451h2v1h-2zM553 451h3v1h-3zM790 451h2v1h-2zM919 451h2v1h-2zM65 452h3v1h-3zM112 452h4v1h-4zM249 452h2v1h-2zM377 452h3v1h-3zM499 452h2v1h-2zM551 452h2v1h-2zM792 452h1v1h-1zM917 452h2v1h-2zM68 453h8v1h-8zM108 453h4v1h-4zM251 453h2v1h-2zM375 453h2v1h-2zM501 453h2v1h-2zM548 453h3v1h-3zM793 453h2v1h-2zM916 453h1v1h-1zM76 454h4v1h-4zM100 454h8v1h-8zM253 454h3v1h-3zM373 454h2v1h-2zM503 454h2v1h-2zM544 454h4v1h-4zM795 454h2v1h-2zM914 454h2v1h-2zM80 455h20v1h-20zM256 455h3v1h-3zM371 455h2v1h-2zM505 455h3v1h-3zM540 455h4v1h-4zM797 455h1v1h-1zM913 455h1v1h-1zM259 456h2v1h-2zM368 456h3v1h-3zM508 456h4v1h-4zM536 456h4v1h-4zM798 456h2v1h-2zM912 456h1v1h-1zM261 457h3v1h-3zM365 457h3v1h-3zM512 457h4v1h-4zM532 457h4v1h-4zM800 457h1v1h-1zM910 457h2v1h-2zM264 458h3v1h-3zM363 458h2v1h-2zM516 458h4v1h-4zM528 458h4v1h-4zM801 458h1v1h-1zM909 458h1v1h-1zM267 459h2v1h-2zM360 459h3v1h-3zM520 459h8v1h-8zM802 459h2v1h-2zM908 459h1v1h-1zM269 460h3v1h-3zM356 460h4v1h-4zM804 460h1v1h-1zM907 460h1v1h-1zM272 461h3v1h-3zM352 461h4v1h-4zM805 461h1v1h-1zM906 461h1v1h-1zM275 462h2v1h-2zM349 462h3v1h-3zM806 462h2v1h-2zM905 462h1v1h-1zM277 463h3v1h-3zM347 463h2v1h-2zM808 463h1v1h-1zM904 463h1v1h-1zM280 464h4v1h-4zM345 464h2v1h-2zM809 464h1v1h-1zM902 464h2v1h-2zM284 465h4v1h-4zM343 465h2v1h-2zM810 465h2v1h-2zM901 465h1v1h-1zM288 466h8v1h-8zM341 466h2v1h-2zM812 466h1v1h-1zM900 466h1v1h-1zM296 467h3v1h-3zM339 467h2v1h-2zM813 467h1v1h-1zM898 467h2v1h-2zM299 468h2v1h-2zM336 468h3v1h-3zM814 468h2v1h-2zM897 468h1v1h-1zM301 469h2v1h-2zM333 469h3v1h-3zM816 469h1v1h-1zM896 469h1v1h-1zM303 470h2v1h-2zM331 470h2v1h-2zM817 470h2v1h-2zM894 470h2v1h-2zM305 471h3v1h-3zM328 471h3v1h-3zM819 471h2v1h-2zM893 471h1v1h-1zM308 472h8v1h-8zM320 472h8v1h-8zM821 472h2v1h-2zM892 472h1v1h-1zM316 473h4v1h-4zM823 473h2v1h-2zM890 473h2v1h-2zM825 474h3v1h-3zM889 474h1v1h-1zM828 475h8v1h-8zM887 475h2v1h-2zM836 476h4v1h-4zM885 476h2v1h-2zM840 477h4v1h-4zM884 477h1v1h-1zM844 478h11v1h-11zM882 478h2v1h-2zM855 479h2v1h-2zM880 479h2v1h-2zM857 480h3v1h-3zM876 480h4v1h-4zM860 481h8v1h-8zM872 481h4v1h-4zM868 482h4v1h-4z" fill="#ff0000" shape-rendering="crispEdges" />
<text transform="translate(9.6,429.8) skewX(0.05)" font-size="9" fill="#000" textLength="150.6" lengthAdjust="spacingAndGlyphs" stroke="#000" stroke-width="0.25">MACD(12,26,9) 0.002904 -0.000235</text>
<text transform="translate(1171.3,428.2) skewX(0.05)" font-size="9" fill="#000" textLength="37.3" lengthAdjust="spacingAndGlyphs" stroke="#000" stroke-width="0.25">0.008197</text>
<text transform="translate(1171.3,451) skewX(0.05)" font-size="9" fill="#000" textLength="17.5" lengthAdjust="spacingAndGlyphs" stroke="#000" stroke-width="0.25">0.00</text>
<text transform="translate(1171.3,486.4) skewX(0.05)" font-size="9" fill="#000" textLength="41" lengthAdjust="spacingAndGlyphs" stroke="#000" stroke-width="0.25">-0.012121</text>
<g shape-rendering="crispEdges">
<rect x="1168" y="447" width="2" height="1" fill="#000" />
<rect x="1168" y="419" width="1" height="1" fill="#000" />
<rect x="1168" y="488" width="2" height="1" fill="#000" />
<rect x="1168" y="493" width="1" height="1" fill="#000" />
<rect x="1168" y="564" width="2" height="1" fill="#000" />
</g>
<g shape-rendering="crispEdges">
<rect x="6" y="514" width="3" height="1" fill="#c0c0c0" />
<rect x="12" y="514" width="3" height="1" fill="#c0c0c0" />
<rect x="18" y="514" width="3" height="1" fill="#c0c0c0" />
<rect x="24" y="514" width="3" height="1" fill="#c0c0c0" />
<rect x="30" y="514" width="3" height="1" fill="#c0c0c0" />
<rect x="36" y="514" width="3" height="1" fill="#c0c0c0" />
<rect x="42" y="514" width="3" height="1" fill="#c0c0c0" />
<rect x="48" y="514" width="3" height="1" fill="#c0c0c0" />
<rect x="54" y="514" width="3" height="1" fill="#c0c0c0" />
<rect x="60" y="514" width="3" height="1" fill="#c0c0c0" />
<rect x="66" y="514" width="3" height="1" fill="#c0c0c0" />
<rect x="72" y="514" width="3" height="1" fill="#c0c0c0" />
<rect x="78" y="514" width="3" height="1" fill="#c0c0c0" />
<rect x="84" y="514" width="3" height="1" fill="#c0c0c0" />
<rect x="90" y="514" width="3" height="1" fill="#c0c0c0" />
<rect x="96" y="514" width="3" height="1" fill="#c0c0c0" />
<rect x="102" y="514" width="3" height="1" fill="#c0c0c0" />
<rect x="108" y="514" width="3" height="1" fill="#c0c0c0" />
<rect x="114" y="514" width="3" height="1" fill="#c0c0c0" />
<rect x="120" y="514" width="3" height="1" fill="#c0c0c0" />
<rect x="126" y="514" width="3" height="1" fill="#c0c0c0" />
<rect x="132" y="514" width="3" height="1" fill="#c0c0c0" />
<rect x="138" y="514" width="3" height="1" fill="#c0c0c0" />
<rect x="144" y="514" width="3" height="1" fill="#c0c0c0" />
<rect x="150" y="514" width="3" height="1" fill="#c0c0c0" />
<rect x="156" y="514" width="3" height="1" fill="#c0c0c0" />
<rect x="162" y="514" width="3" height="1" fill="#c0c0c0" />
<rect x="168" y="514" width="3" height="1" fill="#c0c0c0" />
<rect x="174" y="514" width="3" height="1" fill="#c0c0c0" />
<rect x="180" y="514" width="3" height="1" fill="#c0c0c0" />
<rect x="186" y="514" width="3" height="1" fill="#c0c0c0" />
<rect x="192" y="514" width="3" height="1" fill="#c0c0c0" />
<rect x="198" y="514" width="3" height="1" fill="#c0c0c0" />
<rect x="204" y="514" width="3" height="1" fill="#c0c0c0" />
<rect x="210" y="514" width="3" height="1" fill="#c0c0c0" />
<rect x="216" y="514" width="3" height="1" fill="#c0c0c0" />
<rect x="222" y="514" width="3" height="1" fill="#c0c0c0" />
<rect x="228" y="514" width="3" height="1" fill="#c0c0c0" />
<rect x="234" y="514" width="3" height="1" fill="#c0c0c0" />
<rect x="240" y="514" width="3" height="1" fill="#c0c0c0" />
<rect x="246" y="514" width="3" height="1" fill="#c0c0c0" />
<rect x="252" y="514" width="3" height="1" fill="#c0c0c0" />
<rect x="258" y="514" width="3" height="1" fill="#c0c0c0" />
<rect x="264" y="514" width="3" height="1" fill="#c0c0c0" />
<rect x="270" y="514" width="3" height="1" fill="#c0c0c0" />
<rect x="276" y="514" width="3" height="1" fill="#c0c0c0" />
<rect x="282" y="514" width="3" height="1" fill="#c0c0c0" />
<rect x="288" y="514" width="3" height="1" fill="#c0c0c0" />
<rect x="294" y="514" width="3" height="1" fill="#c0c0c0" />
<rect x="300" y="514" width="3" height="1" fill="#c0c0c0" />
<rect x="306" y="514" width="3" height="1" fill="#c0c0c0" />
<rect x="312" y="514" width="3" height="1" fill="#c0c0c0" />
<rect x="318" y="514" width="3" height="1" fill="#c0c0c0" />
<rect x="324" y="514" width="3" height="1" fill="#c0c0c0" />
<rect x="330" y="514" width="3" height="1" fill="#c0c0c0" />
<rect x="336" y="514" width="3" height="1" fill="#c0c0c0" />
<rect x="342" y="514" width="3" height="1" fill="#c0c0c0" />
<rect x="348" y="514" width="3" height="1" fill="#c0c0c0" />
<rect x="354" y="514" width="3" height="1" fill="#c0c0c0" />
<rect x="360" y="514" width="3" height="1" fill="#c0c0c0" />
<rect x="366" y="514" width="3" height="1" fill="#c0c0c0" />
<rect x="372" y="514" width="3" height="1" fill="#c0c0c0" />
<rect x="378" y="514" width="3" height="1" fill="#c0c0c0" />
<rect x="384" y="514" width="3" height="1" fill="#c0c0c0" />
<rect x="390" y="514" width="3" height="1" fill="#c0c0c0" />
<rect x="396" y="514" width="3" height="1" fill="#c0c0c0" />
<rect x="402" y="514" width="3" height="1" fill="#c0c0c0" />
<rect x="408" y="514" width="3" height="1" fill="#c0c0c0" />
<rect x="414" y="514" width="3" height="1" fill="#c0c0c0" />
<rect x="420" y="514" width="3" height="1" fill="#c0c0c0" />
<rect x="426" y="514" width="3" height="1" fill="#c0c0c0" />
<rect x="432" y="514" width="3" height="1" fill="#c0c0c0" />
<rect x="438" y="514" width="3" height="1" fill="#c0c0c0" />
<rect x="444" y="514" width="3" height="1" fill="#c0c0c0" />
<rect x="450" y="514" width="3" height="1" fill="#c0c0c0" />
<rect x="456" y="514" width="3" height="1" fill="#c0c0c0" />
<rect x="462" y="514" width="3" height="1" fill="#c0c0c0" />
<rect x="468" y="514" width="3" height="1" fill="#c0c0c0" />
<rect x="474" y="514" width="3" height="1" fill="#c0c0c0" />
<rect x="480" y="514" width="3" height="1" fill="#c0c0c0" />
<rect x="486" y="514" width="3" height="1" fill="#c0c0c0" />
<rect x="492" y="514" width="3" height="1" fill="#c0c0c0" />
<rect x="498" y="514" width="3" height="1" fill="#c0c0c0" />
<rect x="504" y="514" width="3" height="1" fill="#c0c0c0" />
<rect x="510" y="514" width="3" height="1" fill="#c0c0c0" />
<rect x="516" y="514" width="3" height="1" fill="#c0c0c0" />
<rect x="522" y="514" width="3" height="1" fill="#c0c0c0" />
<rect x="528" y="514" width="3" height="1" fill="#c0c0c0" />
<rect x="534" y="514" width="3" height="1" fill="#c0c0c0" />
<rect x="540" y="514" width="3" height="1" fill="#c0c0c0" />
<rect x="546" y="514" width="3" height="1" fill="#c0c0c0" />
<rect x="552" y="514" width="3" height="1" fill="#c0c0c0" />
<rect x="558" y="514" width="3" height="1" fill="#c0c0c0" />
<rect x="564" y="514" width="3" height="1" fill="#c0c0c0" />
<rect x="570" y="514" width="3" height="1" fill="#c0c0c0" />
<rect x="576" y="514" width="3" height="1" fill="#c0c0c0" />
<rect x="582" y="514" width="3" height="1" fill="#c0c0c0" />
<rect x="588" y="514" width="3" height="1" fill="#c0c0c0" />
<rect x="594" y="514" width="3" height="1" fill="#c0c0c0" />
<rect x="600" y="514" width="3" height="1" fill="#c0c0c0" />
<rect x="606" y="514" width="3" height="1" fill="#c0c0c0" />
<rect x="612" y="514" width="3" height="1" fill="#c0c0c0" />
<rect x="618" y="514" width="3" height="1" fill="#c0c0c0" />
<rect x="624" y="514" width="3" height="1" fill="#c0c0c0" />
<rect x="630" y="514" width="3" height="1" fill="#c0c0c0" />
<rect x="636" y="514" width="3" height="1" fill="#c0c0c0" />
<rect x="642" y="514" width="3" height="1" fill="#c0c0c0" />
<rect x="648" y="514" width="3" height="1" fill="#c0c0c0" />
<rect x="654" y="514" width="3" height="1" fill="#c0c0c0" />
<rect x="660" y="514" width="3" height="1" fill="#c0c0c0" />
<rect x="666" y="514" width="3" height="1" fill="#c0c0c0" />
<rect x="672" y="514" width="3" height="1" fill="#c0c0c0" />
<rect x="678" y="514" width="3" height="1" fill="#c0c0c0" />
<rect x="684" y="514" width="3" height="1" fill="#c0c0c0" />
<rect x="690" y="514" width="3" height="1" fill="#c0c0c0" />
<rect x="696" y="514" width="3" height="1" fill="#c0c0c0" />
<rect x="702" y="514" width="3" height="1" fill="#c0c0c0" />
<rect x="708" y="514" width="3" height="1" fill="#c0c0c0" />
<rect x="714" y="514" width="3" height="1" fill="#c0c0c0" />
<rect x="720" y="514" width="3" height="1" fill="#c0c0c0" />
<rect x="726" y="514" width="3" height="1" fill="#c0c0c0" />
<rect x="732" y="514" width="3" height="1" fill="#c0c0c0" />
<rect x="738" y="514" width="3" height="1" fill="#c0c0c0" />
<rect x="744" y="514" width="3" height="1" fill="#c0c0c0" />
<rect x="750" y="514" width="3" height="1" fill="#c0c0c0" />
<rect x="756" y="514" width="3" height="1" fill="#c0c0c0" />
<rect x="762" y="514" width="3" height="1" fill="#c0c0c0" />
<rect x="768" y="514" width="3" height="1" fill="#c0c0c0" />
<rect x="774" y="514" width="3" height="1" fill="#c0c0c0" />
<rect x="780" y="514" width="3" height="1" fill="#c0c0c0" />
<rect x="786" y="514" width="3" height="1" fill="#c0c0c0" />
<rect x="792" y="514" width="3" height="1" fill="#c0c0c0" />
<rect x="798" y="514" width="3" height="1" fill="#c0c0c0" />
<rect x="804" y="514" width="3" height="1" fill="#c0c0c0" />
<rect x="810" y="514" width="3" height="1" fill="#c0c0c0" />
<rect x="816" y="514" width="3" height="1" fill="#c0c0c0" />
<rect x="822" y="514" width="3" height="1" fill="#c0c0c0" />
<rect x="828" y="514" width="3" height="1" fill="#c0c0c0" />
<rect x="834" y="514" width="3" height="1" fill="#c0c0c0" />
<rect x="840" y="514" width="3" height="1" fill="#c0c0c0" />
<rect x="846" y="514" width="3" height="1" fill="#c0c0c0" />
<rect x="852" y="514" width="3" height="1" fill="#c0c0c0" />
<rect x="858" y="514" width="3" height="1" fill="#c0c0c0" />
<rect x="864" y="514" width="3" height="1" fill="#c0c0c0" />
<rect x="870" y="514" width="3" height="1" fill="#c0c0c0" />
<rect x="876" y="514" width="3" height="1" fill="#c0c0c0" />
<rect x="882" y="514" width="3" height="1" fill="#c0c0c0" />
<rect x="888" y="514" width="3" height="1" fill="#c0c0c0" />
<rect x="894" y="514" width="3" height="1" fill="#c0c0c0" />
<rect x="900" y="514" width="3" height="1" fill="#c0c0c0" />
<rect x="906" y="514" width="3" height="1" fill="#c0c0c0" />
<rect x="912" y="514" width="3" height="1" fill="#c0c0c0" />
<rect x="918" y="514" width="3" height="1" fill="#c0c0c0" />
<rect x="924" y="514" width="3" height="1" fill="#c0c0c0" />
<rect x="930" y="514" width="3" height="1" fill="#c0c0c0" />
<rect x="936" y="514" width="3" height="1" fill="#c0c0c0" />
<rect x="942" y="514" width="3" height="1" fill="#c0c0c0" />
<rect x="948" y="514" width="3" height="1" fill="#c0c0c0" />
<rect x="954" y="514" width="3" height="1" fill="#c0c0c0" />
<rect x="960" y="514" width="3" height="1" fill="#c0c0c0" />
<rect x="966" y="514" width="3" height="1" fill="#c0c0c0" />
<rect x="972" y="514" width="3" height="1" fill="#c0c0c0" />
<rect x="978" y="514" width="3" height="1" fill="#c0c0c0" />
<rect x="984" y="514" width="3" height="1" fill="#c0c0c0" />
<rect x="990" y="514" width="3" height="1" fill="#c0c0c0" />
<rect x="996" y="514" width="3" height="1" fill="#c0c0c0" />
<rect x="1002" y="514" width="3" height="1" fill="#c0c0c0" />
<rect x="1008" y="514" width="3" height="1" fill="#c0c0c0" />
<rect x="1014" y="514" width="3" height="1" fill="#c0c0c0" />
<rect x="1020" y="514" width="3" height="1" fill="#c0c0c0" />
<rect x="1026" y="514" width="3" height="1" fill="#c0c0c0" />
<rect x="1032" y="514" width="3" height="1" fill="#c0c0c0" />
<rect x="1038" y="514" width="3" height="1" fill="#c0c0c0" />
<rect x="1044" y="514" width="3" height="1" fill="#c0c0c0" />
<rect x="1050" y="514" width="3" height="1" fill="#c0c0c0" />
<rect x="1056" y="514" width="3" height="1" fill="#c0c0c0" />
<rect x="1062" y="514" width="3" height="1" fill="#c0c0c0" />
<rect x="1068" y="514" width="3" height="1" fill="#c0c0c0" />
<rect x="1074" y="514" width="3" height="1" fill="#c0c0c0" />
<rect x="1080" y="514" width="3" height="1" fill="#c0c0c0" />
<rect x="1086" y="514" width="3" height="1" fill="#c0c0c0" />
<rect x="1092" y="514" width="3" height="1" fill="#c0c0c0" />
<rect x="1098" y="514" width="3" height="1" fill="#c0c0c0" />
<rect x="1104" y="514" width="3" height="1" fill="#c0c0c0" />
<rect x="1110" y="514" width="3" height="1" fill="#c0c0c0" />
<rect x="1116" y="514" width="3" height="1" fill="#c0c0c0" />
<rect x="1122" y="514" width="3" height="1" fill="#c0c0c0" />
<rect x="1128" y="514" width="3" height="1" fill="#c0c0c0" />
<rect x="1134" y="514" width="3" height="1" fill="#c0c0c0" />
<rect x="1140" y="514" width="3" height="1" fill="#c0c0c0" />
<rect x="1146" y="514" width="3" height="1" fill="#c0c0c0" />
<rect x="1152" y="514" width="3" height="1" fill="#c0c0c0" />
<rect x="1158" y="514" width="3" height="1" fill="#c0c0c0" />
<rect x="1164" y="514" width="3" height="1" fill="#c0c0c0" />
<rect x="6" y="543" width="3" height="1" fill="#c0c0c0" />
<rect x="12" y="543" width="3" height="1" fill="#c0c0c0" />
<rect x="18" y="543" width="3" height="1" fill="#c0c0c0" />
<rect x="24" y="543" width="3" height="1" fill="#c0c0c0" />
<rect x="30" y="543" width="3" height="1" fill="#c0c0c0" />
<rect x="36" y="543" width="3" height="1" fill="#c0c0c0" />
<rect x="42" y="543" width="3" height="1" fill="#c0c0c0" />
<rect x="48" y="543" width="3" height="1" fill="#c0c0c0" />
<rect x="54" y="543" width="3" height="1" fill="#c0c0c0" />
<rect x="60" y="543" width="3" height="1" fill="#c0c0c0" />
<rect x="66" y="543" width="3" height="1" fill="#c0c0c0" />
<rect x="72" y="543" width="3" height="1" fill="#c0c0c0" />
<rect x="78" y="543" width="3" height="1" fill="#c0c0c0" />
<rect x="84" y="543" width="3" height="1" fill="#c0c0c0" />
<rect x="90" y="543" width="3" height="1" fill="#c0c0c0" />
<rect x="96" y="543" width="3" height="1" fill="#c0c0c0" />
<rect x="102" y="543" width="3" height="1" fill="#c0c0c0" />
<rect x="108" y="543" width="3" height="1" fill="#c0c0c0" />
<rect x="114" y="543" width="3" height="1" fill="#c0c0c0" />
<rect x="120" y="543" width="3" height="1" fill="#c0c0c0" />
<rect x="126" y="543" width="3" height="1" fill="#c0c0c0" />
<rect x="132" y="543" width="3" height="1" fill="#c0c0c0" />
<rect x="138" y="543" width="3" height="1" fill="#c0c0c0" />
<rect x="144" y="543" width="3" height="1" fill="#c0c0c0" />
<rect x="150" y="543" width="3" height="1" fill="#c0c0c0" />
<rect x="156" y="543" width="3" height="1" fill="#c0c0c0" />
<rect x="162" y="543" width="3" height="1" fill="#c0c0c0" />
<rect x="168" y="543" width="3" height="1" fill="#c0c0c0" />
<rect x="174" y="543" width="3" height="1" fill="#c0c0c0" />
<rect x="180" y="543" width="3" height="1" fill="#c0c0c0" />
<rect x="186" y="543" width="3" height="1" fill="#c0c0c0" />
<rect x="192" y="543" width="3" height="1" fill="#c0c0c0" />
<rect x="198" y="543" width="3" height="1" fill="#c0c0c0" />
<rect x="204" y="543" width="3" height="1" fill="#c0c0c0" />
<rect x="210" y="543" width="3" height="1" fill="#c0c0c0" />
<rect x="216" y="543" width="3" height="1" fill="#c0c0c0" />
<rect x="222" y="543" width="3" height="1" fill="#c0c0c0" />
<rect x="228" y="543" width="3" height="1" fill="#c0c0c0" />
<rect x="234" y="543" width="3" height="1" fill="#c0c0c0" />
<rect x="240" y="543" width="3" height="1" fill="#c0c0c0" />
<rect x="246" y="543" width="3" height="1" fill="#c0c0c0" />
<rect x="252" y="543" width="3" height="1" fill="#c0c0c0" />
<rect x="258" y="543" width="3" height="1" fill="#c0c0c0" />
<rect x="264" y="543" width="3" height="1" fill="#c0c0c0" />
<rect x="270" y="543" width="3" height="1" fill="#c0c0c0" />
<rect x="276" y="543" width="3" height="1" fill="#c0c0c0" />
<rect x="282" y="543" width="3" height="1" fill="#c0c0c0" />
<rect x="288" y="543" width="3" height="1" fill="#c0c0c0" />
<rect x="294" y="543" width="3" height="1" fill="#c0c0c0" />
<rect x="300" y="543" width="3" height="1" fill="#c0c0c0" />
<rect x="306" y="543" width="3" height="1" fill="#c0c0c0" />
<rect x="312" y="543" width="3" height="1" fill="#c0c0c0" />
<rect x="318" y="543" width="3" height="1" fill="#c0c0c0" />
<rect x="324" y="543" width="3" height="1" fill="#c0c0c0" />
<rect x="330" y="543" width="3" height="1" fill="#c0c0c0" />
<rect x="336" y="543" width="3" height="1" fill="#c0c0c0" />
<rect x="342" y="543" width="3" height="1" fill="#c0c0c0" />
<rect x="348" y="543" width="3" height="1" fill="#c0c0c0" />
<rect x="354" y="543" width="3" height="1" fill="#c0c0c0" />
<rect x="360" y="543" width="3" height="1" fill="#c0c0c0" />
<rect x="366" y="543" width="3" height="1" fill="#c0c0c0" />
<rect x="372" y="543" width="3" height="1" fill="#c0c0c0" />
<rect x="378" y="543" width="3" height="1" fill="#c0c0c0" />
<rect x="384" y="543" width="3" height="1" fill="#c0c0c0" />
<rect x="390" y="543" width="3" height="1" fill="#c0c0c0" />
<rect x="396" y="543" width="3" height="1" fill="#c0c0c0" />
<rect x="402" y="543" width="3" height="1" fill="#c0c0c0" />
<rect x="408" y="543" width="3" height="1" fill="#c0c0c0" />
<rect x="414" y="543" width="3" height="1" fill="#c0c0c0" />
<rect x="420" y="543" width="3" height="1" fill="#c0c0c0" />
<rect x="426" y="543" width="3" height="1" fill="#c0c0c0" />
<rect x="432" y="543" width="3" height="1" fill="#c0c0c0" />
<rect x="438" y="543" width="3" height="1" fill="#c0c0c0" />
<rect x="444" y="543" width="3" height="1" fill="#c0c0c0" />
<rect x="450" y="543" width="3" height="1" fill="#c0c0c0" />
<rect x="456" y="543" width="3" height="1" fill="#c0c0c0" />
<rect x="462" y="543" width="3" height="1" fill="#c0c0c0" />
<rect x="468" y="543" width="3" height="1" fill="#c0c0c0" />
<rect x="474" y="543" width="3" height="1" fill="#c0c0c0" />
<rect x="480" y="543" width="3" height="1" fill="#c0c0c0" />
<rect x="486" y="543" width="3" height="1" fill="#c0c0c0" />
<rect x="492" y="543" width="3" height="1" fill="#c0c0c0" />
<rect x="498" y="543" width="3" height="1" fill="#c0c0c0" />
<rect x="504" y="543" width="3" height="1" fill="#c0c0c0" />
<rect x="510" y="543" width="3" height="1" fill="#c0c0c0" />
<rect x="516" y="543" width="3" height="1" fill="#c0c0c0" />
<rect x="522" y="543" width="3" height="1" fill="#c0c0c0" />
<rect x="528" y="543" width="3" height="1" fill="#c0c0c0" />
<rect x="534" y="543" width="3" height="1" fill="#c0c0c0" />
<rect x="540" y="543" width="3" height="1" fill="#c0c0c0" />
<rect x="546" y="543" width="3" height="1" fill="#c0c0c0" />
<rect x="552" y="543" width="3" height="1" fill="#c0c0c0" />
<rect x="558" y="543" width="3" height="1" fill="#c0c0c0" />
<rect x="564" y="543" width="3" height="1" fill="#c0c0c0" />
<rect x="570" y="543" width="3" height="1" fill="#c0c0c0" />
<rect x="576" y="543" width="3" height="1" fill="#c0c0c0" />
<rect x="582" y="543" width="3" height="1" fill="#c0c0c0" />
<rect x="588" y="543" width="3" height="1" fill="#c0c0c0" />
<rect x="594" y="543" width="3" height="1" fill="#c0c0c0" />
<rect x="600" y="543" width="3" height="1" fill="#c0c0c0" />
<rect x="606" y="543" width="3" height="1" fill="#c0c0c0" />
<rect x="612" y="543" width="3" height="1" fill="#c0c0c0" />
<rect x="618" y="543" width="3" height="1" fill="#c0c0c0" />
<rect x="624" y="543" width="3" height="1" fill="#c0c0c0" />
<rect x="630" y="543" width="3" height="1" fill="#c0c0c0" />
<rect x="636" y="543" width="3" height="1" fill="#c0c0c0" />
<rect x="642" y="543" width="3" height="1" fill="#c0c0c0" />
<rect x="648" y="543" width="3" height="1" fill="#c0c0c0" />
<rect x="654" y="543" width="3" height="1" fill="#c0c0c0" />
<rect x="660" y="543" width="3" height="1" fill="#c0c0c0" />
<rect x="666" y="543" width="3" height="1" fill="#c0c0c0" />
<rect x="672" y="543" width="3" height="1" fill="#c0c0c0" />
<rect x="678" y="543" width="3" height="1" fill="#c0c0c0" />
<rect x="684" y="543" width="3" height="1" fill="#c0c0c0" />
<rect x="690" y="543" width="3" height="1" fill="#c0c0c0" />
<rect x="696" y="543" width="3" height="1" fill="#c0c0c0" />
<rect x="702" y="543" width="3" height="1" fill="#c0c0c0" />
<rect x="708" y="543" width="3" height="1" fill="#c0c0c0" />
<rect x="714" y="543" width="3" height="1" fill="#c0c0c0" />
<rect x="720" y="543" width="3" height="1" fill="#c0c0c0" />
<rect x="726" y="543" width="3" height="1" fill="#c0c0c0" />
<rect x="732" y="543" width="3" height="1" fill="#c0c0c0" />
<rect x="738" y="543" width="3" height="1" fill="#c0c0c0" />
<rect x="744" y="543" width="3" height="1" fill="#c0c0c0" />
<rect x="750" y="543" width="3" height="1" fill="#c0c0c0" />
<rect x="756" y="543" width="3" height="1" fill="#c0c0c0" />
<rect x="762" y="543" width="3" height="1" fill="#c0c0c0" />
<rect x="768" y="543" width="3" height="1" fill="#c0c0c0" />
<rect x="774" y="543" width="3" height="1" fill="#c0c0c0" />
<rect x="780" y="543" width="3" height="1" fill="#c0c0c0" />
<rect x="786" y="543" width="3" height="1" fill="#c0c0c0" />
<rect x="792" y="543" width="3" height="1" fill="#c0c0c0" />
<rect x="798" y="543" width="3" height="1" fill="#c0c0c0" />
<rect x="804" y="543" width="3" height="1" fill="#c0c0c0" />
<rect x="810" y="543" width="3" height="1" fill="#c0c0c0" />
<rect x="816" y="543" width="3" height="1" fill="#c0c0c0" />
<rect x="822" y="543" width="3" height="1" fill="#c0c0c0" />
<rect x="828" y="543" width="3" height="1" fill="#c0c0c0" />
<rect x="834" y="543" width="3" height="1" fill="#c0c0c0" />
<rect x="840" y="543" width="3" height="1" fill="#c0c0c0" />
<rect x="846" y="543" width="3" height="1" fill="#c0c0c0" />
<rect x="852" y="543" width="3" height="1" fill="#c0c0c0" />
<rect x="858" y="543" width="3" height="1" fill="#c0c0c0" />
<rect x="864" y="543" width="3" height="1" fill="#c0c0c0" />
<rect x="870" y="543" width="3" height="1" fill="#c0c0c0" />
<rect x="876" y="543" width="3" height="1" fill="#c0c0c0" />
<rect x="882" y="543" width="3" height="1" fill="#c0c0c0" />
<rect x="888" y="543" width="3" height="1" fill="#c0c0c0" />
<rect x="894" y="543" width="3" height="1" fill="#c0c0c0" />
<rect x="900" y="543" width="3" height="1" fill="#c0c0c0" />
<rect x="906" y="543" width="3" height="1" fill="#c0c0c0" />
<rect x="912" y="543" width="3" height="1" fill="#c0c0c0" />
<rect x="918" y="543" width="3" height="1" fill="#c0c0c0" />
<rect x="924" y="543" width="3" height="1" fill="#c0c0c0" />
<rect x="930" y="543" width="3" height="1" fill="#c0c0c0" />
<rect x="936" y="543" width="3" height="1" fill="#c0c0c0" />
<rect x="942" y="543" width="3" height="1" fill="#c0c0c0" />
<rect x="948" y="543" width="3" height="1" fill="#c0c0c0" />
<rect x="954" y="543" width="3" height="1" fill="#c0c0c0" />
<rect x="960" y="543" width="3" height="1" fill="#c0c0c0" />
<rect x="966" y="543" width="3" height="1" fill="#c0c0c0" />
<rect x="972" y="543" width="3" height="1" fill="#c0c0c0" />
<rect x="978" y="543" width="3" height="1" fill="#c0c0c0" />
<rect x="984" y="543" width="3" height="1" fill="#c0c0c0" />
<rect x="990" y="543" width="3" height="1" fill="#c0c0c0" />
<rect x="996" y="543" width="3" height="1" fill="#c0c0c0" />
<rect x="1002" y="543" width="3" height="1" fill="#c0c0c0" />
<rect x="1008" y="543" width="3" height="1" fill="#c0c0c0" />
<rect x="1014" y="543" width="3" height="1" fill="#c0c0c0" />
<rect x="1020" y="543" width="3" height="1" fill="#c0c0c0" />
<rect x="1026" y="543" width="3" height="1" fill="#c0c0c0" />
<rect x="1032" y="543" width="3" height="1" fill="#c0c0c0" />
<rect x="1038" y="543" width="3" height="1" fill="#c0c0c0" />
<rect x="1044" y="543" width="3" height="1" fill="#c0c0c0" />
<rect x="1050" y="543" width="3" height="1" fill="#c0c0c0" />
<rect x="1056" y="543" width="3" height="1" fill="#c0c0c0" />
<rect x="1062" y="543" width="3" height="1" fill="#c0c0c0" />
<rect x="1068" y="543" width="3" height="1" fill="#c0c0c0" />
<rect x="1074" y="543" width="3" height="1" fill="#c0c0c0" />
<rect x="1080" y="543" width="3" height="1" fill="#c0c0c0" />
<rect x="1086" y="543" width="3" height="1" fill="#c0c0c0" />
<rect x="1092" y="543" width="3" height="1" fill="#c0c0c0" />
<rect x="1098" y="543" width="3" height="1" fill="#c0c0c0" />
<rect x="1104" y="543" width="3" height="1" fill="#c0c0c0" />
<rect x="1110" y="543" width="3" height="1" fill="#c0c0c0" />
<rect x="1116" y="543" width="3" height="1" fill="#c0c0c0" />
<rect x="1122" y="543" width="3" height="1" fill="#c0c0c0" />
<rect x="1128" y="543" width="3" height="1" fill="#c0c0c0" />
<rect x="1134" y="543" width="3" height="1" fill="#c0c0c0" />
<rect x="1140" y="543" width="3" height="1" fill="#c0c0c0" />
<rect x="1146" y="543" width="3" height="1" fill="#c0c0c0" />
<rect x="1152" y="543" width="3" height="1" fill="#c0c0c0" />
<rect x="1158" y="543" width="3" height="1" fill="#c0c0c0" />
<rect x="1164" y="543" width="3" height="1" fill="#c0c0c0" />
</g>
<path d="M23 529h1v2h-1zM31 531h1v2h-1zM53 537h1v2h-1zM54 535h1v2h-1zM55 533h1v2h-1zM56 531h1v2h-1zM74 534h1v2h-1zM76 537h1v2h-1zM83 532h1v2h-1zM115 525h1v2h-1zM123 521h1v2h-1zM143 516h1v2h-1zM150 513h1v2h-1zM151 515h1v2h-1zM152 517h1v2h-1zM189 517h1v2h-1zM190 519h1v3h-1zM191 522h1v2h-1zM192 524h1v3h-1zM193 527h1v2h-1zM198 526h1v2h-1zM200 529h1v2h-1zM227 537h1v2h-1zM309 543h1v2h-1zM310 541h1v2h-1zM311 539h1v2h-1zM312 537h1v2h-1zM313 535h1v2h-1zM338 533h1v2h-1zM340 530h1v2h-1zM362 528h1v2h-1zM364 525h1v2h-1zM401 520h1v2h-1zM402 522h1v2h-1zM403 524h1v3h-1zM404 527h1v2h-1zM405 529h1v2h-1zM407 527h1v2h-1zM414 528h1v2h-1zM416 531h1v2h-1zM434 526h1v2h-1zM435 524h1v2h-1zM436 522h1v2h-1zM441 521h1v2h-1zM442 523h1v2h-1zM443 525h1v2h-1zM444 527h1v2h-1zM486 538h1v2h-1zM488 541h1v2h-1zM497 543h1v2h-1zM498 541h1v2h-1zM499 539h1v2h-1zM500 537h1v2h-1zM501 535h1v2h-1zM503 532h1v2h-1zM515 531h1v2h-1zM581 521h1v2h-1zM582 523h1v2h-1zM583 525h1v2h-1zM584 527h1v2h-1zM586 527h1v2h-1zM588 524h1v2h-1zM595 524h1v2h-1zM618 515h1v2h-1zM619 517h1v2h-1zM620 519h1v2h-1zM623 523h1v2h-1zM634 521h1v2h-1zM636 524h1v2h-1zM642 527h1v2h-1zM644 530h1v2h-1zM650 531h1v2h-1zM652 528h1v2h-1zM654 525h1v2h-1zM656 522h1v2h-1zM715 517h1v2h-1zM721 514h1v2h-1zM722 516h1v2h-1zM723 518h1v2h-1zM724 520h1v2h-1zM725 522h1v2h-1zM774 528h1v2h-1zM776 531h1v2h-1zM778 534h1v2h-1zM779 536h1v2h-1zM780 538h1v2h-1zM814 546h1v2h-1zM816 543h1v2h-1zM817 541h1v2h-1zM818 538h1v3h-1zM819 534h1v4h-1zM820 531h1v3h-1zM821 529h1v2h-1zM822 530h1v2h-1zM823 532h1v2h-1zM824 534h1v2h-1zM851 542h1v2h-1zM871 533h1v2h-1zM918 522h1v2h-1zM920 519h1v2h-1zM149 512h1v1h-1zM147 513h2v1h-2zM145 514h2v1h-2zM616 514h2v1h-2zM720 514h1v1h-1zM144 515h1v1h-1zM168 515h3v1h-3zM177 515h3v1h-3zM613 515h3v1h-3zM684 515h4v1h-4zM717 515h3v1h-3zM164 516h4v1h-4zM171 516h2v1h-2zM175 516h2v1h-2zM180 516h8v1h-8zM611 516h2v1h-2zM677 516h7v1h-7zM688 516h3v1h-3zM716 516h1v1h-1zM132 517h7v1h-7zM161 517h3v1h-3zM173 517h2v1h-2zM188 517h1v1h-1zM609 517h2v1h-2zM675 517h2v1h-2zM691 517h2v1h-2zM696 517h4v1h-4zM128 518h4v1h-4zM139 518h2v1h-2zM142 518h1v1h-1zM159 518h2v1h-2zM608 518h1v1h-1zM673 518h2v1h-2zM693 518h3v1h-3zM700 518h4v1h-4zM921 518h3v1h-3zM125 519h3v1h-3zM141 519h1v1h-1zM153 519h6v1h-6zM606 519h2v1h-2zM672 519h1v1h-1zM704 519h8v1h-8zM714 519h1v1h-1zM924 519h2v1h-2zM124 520h1v1h-1zM397 520h4v1h-4zM605 520h1v1h-1zM633 520h1v1h-1zM660 520h8v1h-8zM670 520h2v1h-2zM712 520h2v1h-2zM389 521h3v1h-3zM395 521h2v1h-2zM437 521h4v1h-4zM577 521h4v1h-4zM603 521h2v1h-2zM621 521h1v1h-1zM632 521h1v1h-1zM657 521h3v1h-3zM668 521h2v1h-2zM919 521h1v1h-1zM387 522h2v1h-2zM392 522h3v1h-3zM576 522h1v1h-1zM597 522h6v1h-6zM622 522h1v1h-1zM630 522h2v1h-2zM909 522h3v1h-3zM117 523h3v1h-3zM122 523h1v1h-1zM368 523h19v1h-19zM575 523h1v1h-1zM589 523h1v1h-1zM596 523h1v1h-1zM629 523h1v1h-1zM635 523h1v1h-1zM726 523h1v1h-1zM907 523h2v1h-2zM912 523h4v1h-4zM116 524h1v1h-1zM120 524h2v1h-2zM365 524h3v1h-3zM557 524h3v1h-3zM574 524h1v1h-1zM590 524h1v1h-1zM628 524h1v1h-1zM655 524h1v1h-1zM727 524h2v1h-2zM901 524h6v1h-6zM916 524h2v1h-2zM105 525h3v1h-3zM197 525h1v1h-1zM409 525h2v1h-2zM533 525h2v1h-2zM556 525h1v1h-1zM560 525h8v1h-8zM572 525h2v1h-2zM591 525h1v1h-1zM624 525h1v1h-1zM626 525h2v1h-2zM729 525h2v1h-2zM900 525h1v1h-1zM104 526h1v1h-1zM108 526h3v1h-3zM196 526h1v1h-1zM408 526h1v1h-1zM411 526h2v1h-2zM532 526h1v1h-1zM535 526h2v1h-2zM555 526h1v1h-1zM568 526h4v1h-4zM587 526h1v1h-1zM592 526h1v1h-1zM594 526h1v1h-1zM625 526h1v1h-1zM637 526h5v1h-5zM731 526h2v1h-2zM899 526h1v1h-1zM5 527h17v1h-17zM103 527h1v1h-1zM111 527h2v1h-2zM114 527h1v1h-1zM194 527h2v1h-2zM363 527h1v1h-1zM413 527h1v1h-1zM530 527h2v1h-2zM537 527h1v1h-1zM554 527h1v1h-1zM593 527h1v1h-1zM653 527h1v1h-1zM733 527h3v1h-3zM745 527h5v1h-5zM773 527h1v1h-1zM888 527h8v1h-8zM898 527h1v1h-1zM22 528h1v1h-1zM89 528h11v1h-11zM102 528h1v1h-1zM113 528h1v1h-1zM199 528h1v1h-1zM433 528h1v1h-1zM448 528h4v1h-4zM461 528h5v1h-5zM528 528h2v1h-2zM538 528h2v1h-2zM545 528h3v1h-3zM552 528h2v1h-2zM736 528h2v1h-2zM744 528h1v1h-1zM750 528h1v1h-1zM772 528h1v1h-1zM885 528h3v1h-3zM896 528h2v1h-2zM29 529h1v1h-1zM87 529h2v1h-2zM100 529h2v1h-2zM341 529h5v1h-5zM406 529h1v1h-1zM432 529h1v1h-1zM445 529h3v1h-3zM452 529h3v1h-3zM460 529h1v1h-1zM466 529h1v1h-1zM513 529h1v1h-1zM525 529h3v1h-3zM540 529h1v1h-1zM543 529h2v1h-2zM548 529h4v1h-4zM585 529h1v1h-1zM643 529h1v1h-1zM738 529h2v1h-2zM743 529h1v1h-1zM751 529h1v1h-1zM771 529h1v1h-1zM883 529h2v1h-2zM28 530h1v1h-1zM30 530h1v1h-1zM57 530h1v1h-1zM85 530h2v1h-2zM213 530h1v1h-1zM325 530h3v1h-3zM346 530h2v1h-2zM361 530h1v1h-1zM415 530h1v1h-1zM421 530h3v1h-3zM430 530h2v1h-2zM455 530h2v1h-2zM458 530h2v1h-2zM467 530h1v1h-1zM505 530h3v1h-3zM511 530h2v1h-2zM514 530h1v1h-1zM524 530h1v1h-1zM541 530h2v1h-2zM651 530h1v1h-1zM740 530h1v1h-1zM742 530h1v1h-1zM752 530h1v1h-1zM770 530h1v1h-1zM775 530h1v1h-1zM881 530h2v1h-2zM24 531h1v1h-1zM26 531h2v1h-2zM58 531h1v1h-1zM69 531h2v1h-2zM84 531h1v1h-1zM201 531h3v1h-3zM211 531h2v1h-2zM214 531h1v1h-1zM317 531h3v1h-3zM323 531h2v1h-2zM328 531h3v1h-3zM348 531h1v1h-1zM360 531h1v1h-1zM420 531h1v1h-1zM424 531h6v1h-6zM457 531h1v1h-1zM468 531h1v1h-1zM472 531h2v1h-2zM504 531h1v1h-1zM508 531h3v1h-3zM523 531h1v1h-1zM741 531h1v1h-1zM753 531h3v1h-3zM769 531h1v1h-1zM873 531h3v1h-3zM879 531h2v1h-2zM25 532h1v1h-1zM59 532h1v1h-1zM67 532h2v1h-2zM71 532h2v1h-2zM204 532h7v1h-7zM215 532h1v1h-1zM316 532h1v1h-1zM320 532h3v1h-3zM331 532h2v1h-2zM339 532h1v1h-1zM349 532h3v1h-3zM359 532h1v1h-1zM418 532h2v1h-2zM469 532h3v1h-3zM474 532h2v1h-2zM522 532h1v1h-1zM645 532h3v1h-3zM756 532h6v1h-6zM768 532h1v1h-1zM872 532h1v1h-1zM876 532h3v1h-3zM32 533h1v1h-1zM60 533h1v1h-1zM64 533h3v1h-3zM73 533h1v1h-1zM216 533h1v1h-1zM315 533h1v1h-1zM333 533h2v1h-2zM352 533h4v1h-4zM358 533h1v1h-1zM417 533h1v1h-1zM476 533h1v1h-1zM480 533h2v1h-2zM516 533h1v1h-1zM520 533h2v1h-2zM648 533h2v1h-2zM762 533h2v1h-2zM767 533h1v1h-1zM777 533h1v1h-1zM865 533h1v1h-1zM33 534h3v1h-3zM61 534h3v1h-3zM82 534h1v1h-1zM217 534h1v1h-1zM236 534h2v1h-2zM314 534h1v1h-1zM335 534h2v1h-2zM356 534h2v1h-2zM477 534h3v1h-3zM482 534h1v1h-1zM502 534h1v1h-1zM517 534h3v1h-3zM764 534h1v1h-1zM766 534h1v1h-1zM864 534h1v1h-1zM866 534h2v1h-2zM36 535h4v1h-4zM81 535h1v1h-1zM218 535h2v1h-2zM229 535h7v1h-7zM238 535h2v1h-2zM337 535h1v1h-1zM483 535h1v1h-1zM765 535h1v1h-1zM863 535h1v1h-1zM868 535h1v1h-1zM870 535h1v1h-1zM40 536h6v1h-6zM75 536h1v1h-1zM80 536h1v1h-1zM220 536h1v1h-1zM228 536h1v1h-1zM240 536h1v1h-1zM484 536h1v1h-1zM825 536h2v1h-2zM862 536h1v1h-1zM869 536h1v1h-1zM46 537h2v1h-2zM79 537h1v1h-1zM221 537h1v1h-1zM241 537h1v1h-1zM485 537h1v1h-1zM827 537h2v1h-2zM860 537h2v1h-2zM48 538h1v1h-1zM52 538h1v1h-1zM78 538h1v1h-1zM222 538h2v1h-2zM242 538h2v1h-2zM249 538h1v1h-1zM829 538h3v1h-3zM857 538h3v1h-3zM49 539h3v1h-3zM77 539h1v1h-1zM224 539h1v1h-1zM226 539h1v1h-1zM244 539h1v1h-1zM247 539h2v1h-2zM250 539h2v1h-2zM832 539h2v1h-2zM855 539h2v1h-2zM225 540h1v1h-1zM245 540h2v1h-2zM252 540h1v1h-1zM487 540h1v1h-1zM781 540h5v1h-5zM834 540h2v1h-2zM853 540h2v1h-2zM253 541h3v1h-3zM786 541h2v1h-2zM836 541h1v1h-1zM852 541h1v1h-1zM256 542h11v1h-11zM788 542h1v1h-1zM837 542h3v1h-3zM267 543h2v1h-2zM489 543h2v1h-2zM789 543h3v1h-3zM840 543h7v1h-7zM269 544h2v1h-2zM281 544h7v1h-7zM491 544h2v1h-2zM496 544h1v1h-1zM792 544h4v1h-4zM847 544h2v1h-2zM850 544h1v1h-1zM271 545h2v1h-2zM280 545h1v1h-1zM288 545h4v1h-4zM308 545h1v1h-1zM493 545h3v1h-3zM796 545h8v1h-8zM815 545h1v1h-1zM849 545h1v1h-1zM273 546h2v1h-2zM279 546h1v1h-1zM292 546h3v1h-3zM307 546h1v1h-1zM804 546h4v1h-4zM275 547h2v1h-2zM278 547h1v1h-1zM295 547h2v1h-2zM306 547h1v1h-1zM808 547h4v1h-4zM277 548h1v1h-1zM297 548h1v1h-1zM305 548h1v1h-1zM812 548h2v1h-2zM298 549h2v1h-2zM304 549h1v1h-1zM300 550h1v1h-1zM302 550h2v1h-2zM301 551h1v1h-1z" fill="#1e90ff" shape-rendering="crispEdges" />
<text transform="translate(9.6,503.9) skewX(0.05)" font-size="9" fill="#000" textLength="67.2" lengthAdjust="spacingAndGlyphs" stroke="#000" stroke-width="0.25">RSI(14) 63.3142</text>
<text transform="translate(1171.3,501.9) skewX(0.05)" font-size="9" fill="#000" textLength="14.7" lengthAdjust="spacingAndGlyphs" stroke="#000" stroke-width="0.25">100</text>
<text transform="translate(1171.3,518) skewX(0.05)" font-size="9" fill="#000" textLength="9.6" lengthAdjust="spacingAndGlyphs" stroke="#000" stroke-width="0.25">70</text>
<text transform="translate(1171.3,547) skewX(0.05)" font-size="9" fill="#000" textLength="9.6" lengthAdjust="spacingAndGlyphs" stroke="#000" stroke-width="0.25">30</text>
<text transform="translate(1171.3,562) skewX(0.05)" font-size="9" fill="#000" textLength="4.6" lengthAdjust="spacingAndGlyphs" stroke="#000" stroke-width="0.25">0</text>
<g shape-rendering="crispEdges">
<rect x="5" y="566" width="1" height="3" fill="#000" />
<rect x="69" y="566" width="1" height="3" fill="#000" />
<rect x="133" y="566" width="1" height="3" fill="#000" />
<rect x="197" y="566" width="1" height="3" fill="#000" />
<rect x="261" y="566" width="1" height="3" fill="#000" />
<rect x="325" y="566" width="1" height="3" fill="#000" />
<rect x="389" y="566" width="1" height="3" fill="#000" />
<rect x="453" y="566" width="1" height="3" fill="#000" />
<rect x="517" y="566" width="1" height="3" fill="#000" />
<rect x="581" y="566" width="1" height="3" fill="#000" />
<rect x="645" y="566" width="1" height="3" fill="#000" />
<rect x="709" y="566" width="1" height="3" fill="#000" />
<rect x="773" y="566" width="1" height="3" fill="#000" />
<rect x="837" y="566" width="1" height="3" fill="#000" />
<rect x="901" y="566" width="1" height="3" fill="#000" />
</g>
<text transform="translate(4,578) skewX(0.05)" font-size="9" fill="#000" textLength="47.1" lengthAdjust="spacingAndGlyphs" stroke="#000" stroke-width="0.25">8 Sep 2021</text>
<text transform="translate(68,578) skewX(0.05)" font-size="9" fill="#000" textLength="51.2" lengthAdjust="spacingAndGlyphs" stroke="#000" stroke-width="0.25">27 Sep 2021</text>
<text transform="translate(132,578) skewX(0.05)" font-size="9" fill="#000" textLength="50.4" lengthAdjust="spacingAndGlyphs" stroke="#000" stroke-width="0.25">15 Oct 2021</text>
<text transform="translate(196,578) skewX(0.05)" font-size="9" fill="#000" textLength="49" lengthAdjust="spacingAndGlyphs" stroke="#000" stroke-width="0.25">3 Nov 2021</text>
<text transform="translate(260,578) skewX(0.05)" font-size="9" fill="#000" textLength="53" lengthAdjust="spacingAndGlyphs" stroke="#000" stroke-width="0.25">22 Nov 2021</text>
<text transform="translate(324,578) skewX(0.05)" font-size="9" fill="#000" textLength="51.4" lengthAdjust="spacingAndGlyphs" stroke="#000" stroke-width="0.25">10 Dec 2021</text>
<text transform="translate(388,578) skewX(0.05)" font-size="9" fill="#000" textLength="51.6" lengthAdjust="spacingAndGlyphs" stroke="#000" stroke-width="0.25">29 Dec 2021</text>
<text transform="translate(452,578) skewX(0.05)" font-size="9" fill="#000" textLength="49.4" lengthAdjust="spacingAndGlyphs" stroke="#000" stroke-width="0.25">17 Jan 2022</text>
<text transform="translate(516,578) skewX(0.05)" font-size="9" fill="#000" textLength="46.6" lengthAdjust="spacingAndGlyphs" stroke="#000" stroke-width="0.25">4 Feb 2022</text>
<text transform="translate(580,578) skewX(0.05)" font-size="9" fill="#000" textLength="52.4" lengthAdjust="spacingAndGlyphs" stroke="#000" stroke-width="0.25">23 Feb 2022</text>
<text transform="translate(644,578) skewX(0.05)" font-size="9" fill="#000" textLength="51.1" lengthAdjust="spacingAndGlyphs" stroke="#000" stroke-width="0.25">14 Mar 2022</text>
<text transform="translate(708,578) skewX(0.05)" font-size="9" fill="#000" textLength="45.5" lengthAdjust="spacingAndGlyphs" stroke="#000" stroke-width="0.25">1 Apr 2022</text>
<text transform="translate(772,578) skewX(0.05)" font-size="9" fill="#000" textLength="51" lengthAdjust="spacingAndGlyphs" stroke="#000" stroke-width="0.25">20 Apr 2022</text>
<text transform="translate(836,578) skewX(0.05)" font-size="9" fill="#000" textLength="49.7" lengthAdjust="spacingAndGlyphs" stroke="#000" stroke-width="0.25">9 May 2022</text>
<text transform="translate(900,578) skewX(0.05)" font-size="9" fill="#000" textLength="54.8" lengthAdjust="spacingAndGlyphs" stroke="#000" stroke-width="0.25">27 May 2022</text>
<g shape-rendering="crispEdges">
<rect x="0" y="586" width="1210" height="2" fill="#e3e3e3" />
<rect x="0" y="588" width="1210" height="19" fill="#f0f0f0" />
<rect x="0" y="607" width="1210" height="5" fill="#f7f7f7" />
<rect x="0" y="612" width="1210" height="1" fill="#b4b4b4" />
<rect x="0" y="613" width="1210" height="1" fill="#f0f0f0" />
<rect x="0" y="586" width="1" height="21" fill="#a0a0a0" />
<rect x="1" y="586" width="1" height="21" fill="#696969" />
<rect x="2" y="588" width="1208" height="1" fill="#000" />
<rect x="114" y="588" width="108" height="18" fill="#fff" />
<rect x="114" y="588" width="1" height="19" fill="#000" />
<rect x="114" y="606" width="108" height="1" fill="#000" />
<rect x="221" y="588" width="1" height="19" fill="#000" />
<rect x="330" y="592" width="1" height="13" fill="#808080" />
<rect x="438" y="592" width="1" height="13" fill="#808080" />
<rect x="550" y="592" width="1" height="13" fill="#808080" />
<rect x="658" y="592" width="1" height="13" fill="#808080" />
<rect x="750" y="592" width="1" height="13" fill="#808080" />
<rect x="842" y="592" width="1" height="13" fill="#808080" />
<rect x="918" y="592" width="1" height="13" fill="#808080" />
<rect x="1010" y="592" width="1" height="13" fill="#808080" />
<rect x="1090" y="592" width="1" height="13" fill="#808080" />
<rect x="1170" y="592" width="1" height="13" fill="#808080" />
</g>
<text transform="translate(17.4,603) skewX(0.05)" font-size="13" fill="#5c5c5c" textLength="84.3" lengthAdjust="spacingAndGlyphs" >EURUSD-,Daily</text>
<text transform="translate(124.7,603) skewX(0.05)" font-size="13" fill="#000" textLength="86.1" lengthAdjust="spacingAndGlyphs" >AUDUSD-,Daily</text>
<text transform="translate(234.3,603) skewX(0.05)" font-size="13" fill="#5c5c5c" textLength="84.1" lengthAdjust="spacingAndGlyphs" >USDCHF-,Daily</text>
<text transform="translate(341.7,603) skewX(0.05)" font-size="13" fill="#5c5c5c" textLength="85.3" lengthAdjust="spacingAndGlyphs" >USDCAD-,Daily</text>
<text transform="translate(450,603) skewX(0.05)" font-size="13" fill="#5c5c5c" textLength="88" lengthAdjust="spacingAndGlyphs" >USDCNH-,Daily</text>
<text transform="translate(560.8,603) skewX(0.05)" font-size="13" fill="#5c5c5c" textLength="85.8" lengthAdjust="spacingAndGlyphs" >XAUUSD-,Daily</text>
<text transform="translate(669.4,603) skewX(0.05)" font-size="13" fill="#5c5c5c" textLength="68.2" lengthAdjust="spacingAndGlyphs" >UKOil-,Daily</text>
<text transform="translate(762.4,603) skewX(0.05)" font-size="13" fill="#5c5c5c" textLength="67.6" lengthAdjust="spacingAndGlyphs" >USOil-,Daily</text>
<text transform="translate(852.4,603) skewX(0.05)" font-size="13" fill="#5c5c5c" textLength="54" lengthAdjust="spacingAndGlyphs" >HK50-,H1</text>
<text transform="translate(928.2,603) skewX(0.05)" font-size="13" fill="#5c5c5c" textLength="70.4" lengthAdjust="spacingAndGlyphs" >EURCHF-,H1</text>
<text transform="translate(1022.5,603) skewX(0.05)" font-size="13" fill="#5c5c5c" textLength="55.1" lengthAdjust="spacingAndGlyphs" >USOil-,H4</text>
<text transform="translate(1101.6,603) skewX(0.05)" font-size="13" fill="#5c5c5c" textLength="55.9" lengthAdjust="spacingAndGlyphs" >UKOil-,H4</text>
<path d="M1182.6 597 L1186 593.3 V600.8 Z" fill="#000"/>
<path d="M1205 597 L1201.6 593.3 V600.8 Z" fill="#a0a0a0"/>
</svg></body></html>
